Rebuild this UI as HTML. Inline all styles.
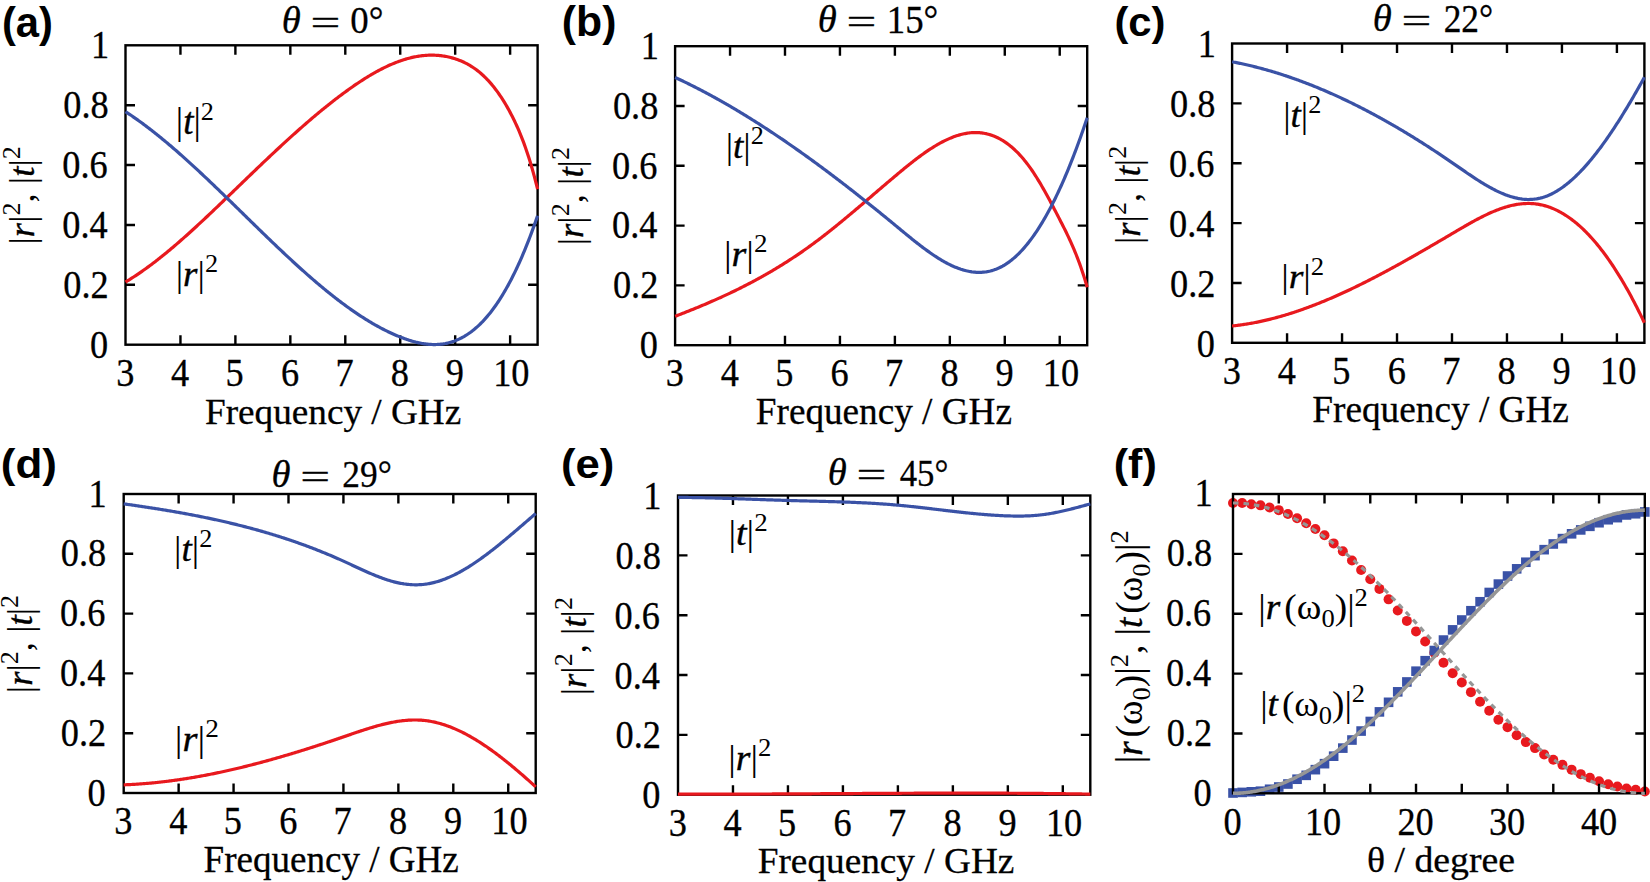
<!DOCTYPE html>
<html><head><meta charset="utf-8"><title>Figure</title><style>html,body{margin:0;padding:0;background:#fff;width:1650px;height:882px;overflow:hidden}svg{display:block}</style></head><body>
<svg width="1650" height="882" viewBox="0 0 1650 882">
<rect width="1650" height="882" fill="#fff"/>
<path d="M180.45,344.70V335.20M180.45,45.30V54.80M235.39,344.70V335.20M235.39,45.30V54.80M290.34,344.70V335.20M290.34,45.30V54.80M345.29,344.70V335.20M345.29,45.30V54.80M400.23,344.70V335.20M400.23,45.30V54.80M455.18,344.70V335.20M455.18,45.30V54.80M510.13,344.70V335.20M510.13,45.30V54.80M125.50,284.82H135.00M537.60,284.82H528.10M125.50,224.94H135.00M537.60,224.94H528.10M125.50,165.06H135.00M537.60,165.06H528.10M125.50,105.18H135.00M537.60,105.18H528.10" stroke="#000" stroke-width="2.4" fill="none"/><rect x="125.5" y="45.3" width="412.10" height="299.40" stroke="#000" stroke-width="2.4" fill="none"/>
<path d="M125.50,282.00 L126.60,281.35 L127.70,280.68 L128.80,280.01 L129.90,279.33 L130.99,278.64 L132.09,277.94 L133.19,277.24 L134.29,276.52 L135.39,275.80 L136.49,275.08 L137.59,274.34 L138.69,273.60 L139.79,272.85 L140.89,272.10 L141.98,271.33 L143.08,270.56 L144.18,269.78 L145.28,269.00 L146.38,268.21 L147.48,267.41 L148.58,266.61 L149.68,265.80 L150.78,264.98 L151.87,264.16 L152.97,263.33 L154.07,262.49 L155.17,261.65 L156.27,260.80 L157.37,259.95 L158.47,259.09 L159.57,258.22 L160.67,257.35 L161.76,256.47 L162.86,255.59 L163.96,254.70 L165.06,253.81 L166.16,252.91 L167.26,252.01 L168.36,251.10 L169.46,250.19 L170.56,249.27 L171.66,248.35 L172.75,247.42 L173.85,246.48 L174.95,245.55 L176.05,244.61 L177.15,243.66 L178.25,242.71 L179.35,241.75 L180.45,240.79 L181.55,239.83 L182.64,238.86 L183.74,237.89 L184.84,236.92 L185.94,235.94 L187.04,234.96 L188.14,233.97 L189.24,232.98 L190.34,231.99 L191.44,230.99 L192.53,229.99 L193.63,228.99 L194.73,227.99 L195.83,226.98 L196.93,225.97 L198.03,224.95 L199.13,223.93 L200.23,222.91 L201.33,221.89 L202.43,220.87 L203.52,219.84 L204.62,218.81 L205.72,217.78 L206.82,216.74 L207.92,215.71 L209.02,214.67 L210.12,213.63 L211.22,212.59 L212.32,211.54 L213.41,210.50 L214.51,209.45 L215.61,208.40 L216.71,207.35 L217.81,206.30 L218.91,205.25 L220.01,204.19 L221.11,203.14 L222.21,202.08 L223.31,201.02 L224.40,199.97 L225.50,198.91 L226.60,197.85 L227.70,196.79 L228.80,195.73 L229.90,194.67 L231.00,193.61 L232.10,192.54 L233.20,191.48 L234.29,190.42 L235.39,189.36 L236.49,188.30 L237.59,187.24 L238.69,186.17 L239.79,185.11 L240.89,184.05 L241.99,182.99 L243.09,181.93 L244.18,180.87 L245.28,179.81 L246.38,178.75 L247.48,177.69 L248.58,176.64 L249.68,175.58 L250.78,174.52 L251.88,173.47 L252.98,172.41 L254.08,171.36 L255.17,170.31 L256.27,169.25 L257.37,168.20 L258.47,167.15 L259.57,166.10 L260.67,165.06 L261.77,164.01 L262.87,162.96 L263.97,161.92 L265.06,160.88 L266.16,159.84 L267.26,158.80 L268.36,157.76 L269.46,156.72 L270.56,155.69 L271.66,154.66 L272.76,153.62 L273.86,152.59 L274.95,151.57 L276.05,150.54 L277.15,149.52 L278.25,148.50 L279.35,147.48 L280.45,146.46 L281.55,145.44 L282.65,144.43 L283.75,143.42 L284.85,142.41 L285.94,141.40 L287.04,140.40 L288.14,139.40 L289.24,138.40 L290.34,137.40 L291.44,136.41 L292.54,135.41 L293.64,134.43 L294.74,133.44 L295.83,132.46 L296.93,131.48 L298.03,130.50 L299.13,129.52 L300.23,128.55 L301.33,127.58 L302.43,126.62 L303.53,125.66 L304.63,124.70 L305.73,123.74 L306.82,122.79 L307.92,121.84 L309.02,120.89 L310.12,119.95 L311.22,119.01 L312.32,118.08 L313.42,117.15 L314.52,116.22 L315.62,115.30 L316.71,114.37 L317.81,113.46 L318.91,112.55 L320.01,111.64 L321.11,110.73 L322.21,109.83 L323.31,108.93 L324.41,108.04 L325.51,107.15 L326.60,106.27 L327.70,105.39 L328.80,104.51 L329.90,103.64 L331.00,102.77 L332.10,101.91 L333.20,101.05 L334.30,100.20 L335.40,99.35 L336.50,98.51 L337.59,97.67 L338.69,96.83 L339.79,96.01 L340.89,95.18 L341.99,94.36 L343.09,93.55 L344.19,92.74 L345.29,91.93 L346.39,91.13 L347.48,90.34 L348.58,89.55 L349.68,88.76 L350.78,87.99 L351.88,87.21 L352.98,86.45 L354.08,85.69 L355.18,84.93 L356.28,84.19 L357.37,83.45 L358.47,82.71 L359.57,81.98 L360.67,81.26 L361.77,80.55 L362.87,79.84 L363.97,79.14 L365.07,78.45 L366.17,77.76 L367.27,77.08 L368.36,76.41 L369.46,75.75 L370.56,75.10 L371.66,74.45 L372.76,73.81 L373.86,73.18 L374.96,72.56 L376.06,71.95 L377.16,71.35 L378.25,70.75 L379.35,70.17 L380.45,69.59 L381.55,69.02 L382.65,68.46 L383.75,67.92 L384.85,67.38 L385.95,66.85 L387.05,66.33 L388.15,65.82 L389.24,65.32 L390.34,64.83 L391.44,64.35 L392.54,63.88 L393.64,63.43 L394.74,62.98 L395.84,62.55 L396.94,62.12 L398.04,61.71 L399.13,61.31 L400.23,60.92 L401.33,60.54 L402.43,60.17 L403.53,59.81 L404.63,59.47 L405.73,59.14 L406.83,58.82 L407.93,58.51 L409.02,58.22 L410.12,57.94 L411.22,57.67 L412.32,57.41 L413.42,57.17 L414.52,56.94 L415.62,56.72 L416.72,56.52 L417.82,56.33 L418.92,56.15 L420.01,55.99 L421.11,55.84 L422.21,55.71 L423.31,55.59 L424.41,55.48 L425.51,55.39 L426.61,55.31 L427.71,55.25 L428.81,55.20 L429.90,55.17 L431.00,55.15 L432.10,55.15 L433.20,55.16 L434.30,55.19 L435.40,55.23 L436.50,55.29 L437.60,55.36 L438.70,55.46 L439.79,55.56 L440.89,55.69 L441.99,55.83 L443.09,55.98 L444.19,56.15 L445.29,56.34 L446.39,56.55 L447.49,56.77 L448.59,57.01 L449.69,57.27 L450.78,57.55 L451.88,57.84 L452.98,58.15 L454.08,58.48 L455.18,58.82 L456.28,59.19 L457.38,59.57 L458.48,59.97 L459.58,60.39 L460.67,60.83 L461.77,61.30 L462.87,61.78 L463.97,62.29 L465.07,62.82 L466.17,63.37 L467.27,63.95 L468.37,64.56 L469.47,65.19 L470.57,65.84 L471.66,66.53 L472.76,67.24 L473.86,67.98 L474.96,68.74 L476.06,69.54 L477.16,70.37 L478.26,71.23 L479.36,72.11 L480.46,73.04 L481.55,73.99 L482.65,74.98 L483.75,76.00 L484.85,77.06 L485.95,78.15 L487.05,79.27 L488.15,80.44 L489.25,81.64 L490.35,82.88 L491.44,84.15 L492.54,85.47 L493.64,86.83 L494.74,88.22 L495.84,89.66 L496.94,91.14 L498.04,92.66 L499.14,94.23 L500.24,95.83 L501.34,97.49 L502.43,99.18 L503.53,100.92 L504.63,102.71 L505.73,104.55 L506.83,106.43 L507.93,108.36 L509.03,110.34 L510.13,112.37 L511.23,114.45 L512.32,116.58 L513.42,118.77 L514.52,121.02 L515.62,123.34 L516.72,125.72 L517.82,128.18 L518.92,130.72 L520.02,133.33 L521.12,136.03 L522.21,138.82 L523.31,141.69 L524.41,144.67 L525.51,147.74 L526.61,150.91 L527.71,154.19 L528.81,157.59 L529.91,161.09 L531.01,164.72 L532.11,168.46 L533.20,172.33 L534.30,176.33 L535.40,180.47 L536.50,184.74 L537.60,189.15" stroke="#e8191e" stroke-width="3.2" fill="none" stroke-linejoin="round"/>
<path d="M125.50,111.65 L126.60,112.37 L127.70,113.09 L128.80,113.82 L129.90,114.56 L130.99,115.30 L132.09,116.05 L133.19,116.81 L134.29,117.57 L135.39,118.34 L136.49,119.11 L137.59,119.89 L138.69,120.68 L139.79,121.47 L140.89,122.27 L141.98,123.07 L143.08,123.88 L144.18,124.70 L145.28,125.52 L146.38,126.35 L147.48,127.18 L148.58,128.02 L149.68,128.86 L150.78,129.71 L151.87,130.57 L152.97,131.43 L154.07,132.29 L155.17,133.16 L156.27,134.04 L157.37,134.92 L158.47,135.80 L159.57,136.69 L160.67,137.59 L161.76,138.49 L162.86,139.39 L163.96,140.30 L165.06,141.21 L166.16,142.13 L167.26,143.05 L168.36,143.98 L169.46,144.91 L170.56,145.84 L171.66,146.78 L172.75,147.73 L173.85,148.67 L174.95,149.63 L176.05,150.58 L177.15,151.54 L178.25,152.50 L179.35,153.47 L180.45,154.44 L181.55,155.41 L182.64,156.39 L183.74,157.37 L184.84,158.36 L185.94,159.34 L187.04,160.34 L188.14,161.33 L189.24,162.33 L190.34,163.33 L191.44,164.33 L192.53,165.34 L193.63,166.35 L194.73,167.36 L195.83,168.37 L196.93,169.39 L198.03,170.41 L199.13,171.44 L200.23,172.46 L201.33,173.49 L202.43,174.52 L203.52,175.55 L204.62,176.59 L205.72,177.62 L206.82,178.66 L207.92,179.71 L209.02,180.75 L210.12,181.79 L211.22,182.84 L212.32,183.89 L213.41,184.94 L214.51,185.99 L215.61,187.05 L216.71,188.10 L217.81,189.16 L218.91,190.22 L220.01,191.28 L221.11,192.34 L222.21,193.41 L223.31,194.47 L224.40,195.54 L225.50,196.60 L226.60,197.67 L227.70,198.74 L228.80,199.81 L229.90,200.88 L231.00,201.95 L232.10,203.02 L233.20,204.09 L234.29,205.17 L235.39,206.24 L236.49,207.31 L237.59,208.39 L238.69,209.46 L239.79,210.54 L240.89,211.61 L241.99,212.69 L243.09,213.76 L244.18,214.84 L245.28,215.91 L246.38,216.99 L247.48,218.06 L248.58,219.14 L249.68,220.21 L250.78,221.29 L251.88,222.36 L252.98,223.43 L254.08,224.50 L255.17,225.58 L256.27,226.65 L257.37,227.72 L258.47,228.79 L259.57,229.86 L260.67,230.93 L261.77,231.99 L262.87,233.06 L263.97,234.12 L265.06,235.19 L266.16,236.25 L267.26,237.31 L268.36,238.37 L269.46,239.43 L270.56,240.48 L271.66,241.54 L272.76,242.59 L273.86,243.65 L274.95,244.70 L276.05,245.74 L277.15,246.79 L278.25,247.83 L279.35,248.88 L280.45,249.92 L281.55,250.96 L282.65,251.99 L283.75,253.03 L284.85,254.06 L285.94,255.09 L287.04,256.11 L288.14,257.14 L289.24,258.16 L290.34,259.18 L291.44,260.20 L292.54,261.21 L293.64,262.22 L294.74,263.23 L295.83,264.23 L296.93,265.23 L298.03,266.23 L299.13,267.23 L300.23,268.22 L301.33,269.21 L302.43,270.20 L303.53,271.18 L304.63,272.16 L305.73,273.14 L306.82,274.11 L307.92,275.08 L309.02,276.04 L310.12,277.00 L311.22,277.96 L312.32,278.91 L313.42,279.86 L314.52,280.81 L315.62,281.75 L316.71,282.69 L317.81,283.62 L318.91,284.55 L320.01,285.47 L321.11,286.39 L322.21,287.31 L323.31,288.22 L324.41,289.12 L325.51,290.03 L326.60,290.92 L327.70,291.82 L328.80,292.70 L329.90,293.59 L331.00,294.46 L332.10,295.34 L333.20,296.20 L334.30,297.07 L335.40,297.92 L336.50,298.77 L337.59,299.62 L338.69,300.46 L339.79,301.30 L340.89,302.13 L341.99,302.95 L343.09,303.77 L344.19,304.58 L345.29,305.39 L346.39,306.19 L347.48,306.99 L348.58,307.78 L349.68,308.56 L350.78,309.34 L351.88,310.11 L352.98,310.88 L354.08,311.64 L355.18,312.39 L356.28,313.13 L357.37,313.87 L358.47,314.61 L359.57,315.33 L360.67,316.05 L361.77,316.77 L362.87,317.47 L363.97,318.17 L365.07,318.87 L366.17,319.55 L367.27,320.23 L368.36,320.90 L369.46,321.57 L370.56,322.22 L371.66,322.87 L372.76,323.52 L373.86,324.15 L374.96,324.78 L376.06,325.40 L377.16,326.01 L378.25,326.62 L379.35,327.21 L380.45,327.80 L381.55,328.39 L382.65,328.96 L383.75,329.52 L384.85,330.08 L385.95,330.63 L387.05,331.17 L388.15,331.71 L389.24,332.23 L390.34,332.75 L391.44,333.26 L392.54,333.76 L393.64,334.25 L394.74,334.73 L395.84,335.20 L396.94,335.67 L398.04,336.12 L399.13,336.57 L400.23,337.01 L401.33,337.44 L402.43,337.86 L403.53,338.27 L404.63,338.67 L405.73,339.06 L406.83,339.44 L407.93,339.81 L409.02,340.17 L410.12,340.51 L411.22,340.85 L412.32,341.17 L413.42,341.48 L414.52,341.77 L415.62,342.06 L416.72,342.32 L417.82,342.58 L418.92,342.82 L420.01,343.05 L421.11,343.26 L422.21,343.46 L423.31,343.64 L424.41,343.81 L425.51,343.96 L426.61,344.09 L427.71,344.21 L428.81,344.31 L429.90,344.39 L431.00,344.45 L432.10,344.50 L433.20,344.53 L434.30,344.54 L435.40,344.53 L436.50,344.50 L437.60,344.45 L438.70,344.38 L439.79,344.29 L440.89,344.18 L441.99,344.05 L443.09,343.90 L444.19,343.72 L445.29,343.53 L446.39,343.31 L447.49,343.07 L448.59,342.81 L449.69,342.52 L450.78,342.21 L451.88,341.88 L452.98,341.52 L454.08,341.14 L455.18,340.73 L456.28,340.30 L457.38,339.84 L458.48,339.35 L459.58,338.84 L460.67,338.31 L461.77,337.74 L462.87,337.15 L463.97,336.54 L465.07,335.89 L466.17,335.22 L467.27,334.51 L468.37,333.78 L469.47,333.02 L470.57,332.23 L471.66,331.41 L472.76,330.57 L473.86,329.69 L474.96,328.78 L476.06,327.83 L477.16,326.86 L478.26,325.86 L479.36,324.82 L480.46,323.75 L481.55,322.65 L482.65,321.52 L483.75,320.35 L484.85,319.15 L485.95,317.92 L487.05,316.65 L488.15,315.34 L489.25,314.01 L490.35,312.63 L491.44,311.22 L492.54,309.78 L493.64,308.30 L494.74,306.78 L495.84,305.22 L496.94,303.63 L498.04,302.00 L499.14,300.34 L500.24,298.63 L501.34,296.89 L502.43,295.11 L503.53,293.28 L504.63,291.42 L505.73,289.52 L506.83,287.58 L507.93,285.60 L509.03,283.58 L510.13,281.52 L511.23,279.41 L512.32,277.27 L513.42,275.08 L514.52,272.85 L515.62,270.58 L516.72,268.26 L517.82,265.90 L518.92,263.50 L520.02,261.05 L521.12,258.56 L522.21,256.03 L523.31,253.45 L524.41,250.82 L525.51,248.15 L526.61,245.43 L527.71,242.67 L528.81,239.86 L529.91,237.00 L531.01,234.10 L532.11,231.15 L533.20,228.15 L534.30,225.10 L535.40,222.01 L536.50,218.86 L537.60,215.67" stroke="#3a52a6" stroke-width="3.2" fill="none" stroke-linejoin="round"/>
<path d="M730.05,345.20V335.70M730.05,46.20V55.70M784.99,345.20V335.70M784.99,46.20V55.70M839.94,345.20V335.70M839.94,46.20V55.70M894.89,345.20V335.70M894.89,46.20V55.70M949.83,345.20V335.70M949.83,46.20V55.70M1004.78,345.20V335.70M1004.78,46.20V55.70M1059.73,345.20V335.70M1059.73,46.20V55.70M675.10,285.40H684.60M1087.20,285.40H1077.70M675.10,225.60H684.60M1087.20,225.60H1077.70M675.10,165.80H684.60M1087.20,165.80H1077.70M675.10,106.00H684.60M1087.20,106.00H1077.70" stroke="#000" stroke-width="2.4" fill="none"/><rect x="675.1" y="46.2" width="412.10" height="299.00" stroke="#000" stroke-width="2.4" fill="none"/>
<path d="M675.10,316.31 L676.20,315.89 L677.30,315.47 L678.40,315.04 L679.50,314.62 L680.59,314.19 L681.69,313.77 L682.79,313.34 L683.89,312.91 L684.99,312.48 L686.09,312.04 L687.19,311.61 L688.29,311.17 L689.39,310.74 L690.49,310.30 L691.58,309.85 L692.68,309.41 L693.78,308.97 L694.88,308.52 L695.98,308.07 L697.08,307.62 L698.18,307.17 L699.28,306.71 L700.38,306.25 L701.47,305.80 L702.57,305.34 L703.67,304.87 L704.77,304.41 L705.87,303.94 L706.97,303.47 L708.07,303.00 L709.17,302.53 L710.27,302.05 L711.36,301.57 L712.46,301.09 L713.56,300.61 L714.66,300.13 L715.76,299.64 L716.86,299.15 L717.96,298.66 L719.06,298.16 L720.16,297.67 L721.26,297.17 L722.35,296.67 L723.45,296.16 L724.55,295.65 L725.65,295.14 L726.75,294.63 L727.85,294.12 L728.95,293.60 L730.05,293.08 L731.15,292.56 L732.24,292.03 L733.34,291.50 L734.44,290.97 L735.54,290.44 L736.64,289.90 L737.74,289.36 L738.84,288.82 L739.94,288.27 L741.04,287.72 L742.13,287.17 L743.23,286.61 L744.33,286.05 L745.43,285.49 L746.53,284.93 L747.63,284.36 L748.73,283.79 L749.83,283.22 L750.93,282.64 L752.03,282.06 L753.12,281.47 L754.22,280.89 L755.32,280.30 L756.42,279.70 L757.52,279.10 L758.62,278.50 L759.72,277.90 L760.82,277.29 L761.92,276.68 L763.01,276.07 L764.11,275.45 L765.21,274.82 L766.31,274.20 L767.41,273.57 L768.51,272.94 L769.61,272.30 L770.71,271.66 L771.81,271.01 L772.91,270.37 L774.00,269.71 L775.10,269.06 L776.20,268.40 L777.30,267.74 L778.40,267.07 L779.50,266.40 L780.60,265.72 L781.70,265.04 L782.80,264.36 L783.89,263.67 L784.99,262.98 L786.09,262.28 L787.19,261.58 L788.29,260.88 L789.39,260.17 L790.49,259.46 L791.59,258.74 L792.69,258.02 L793.78,257.29 L794.88,256.56 L795.98,255.83 L797.08,255.09 L798.18,254.35 L799.28,253.60 L800.38,252.85 L801.48,252.09 L802.58,251.33 L803.68,250.56 L804.77,249.79 L805.87,249.02 L806.97,248.24 L808.07,247.45 L809.17,246.66 L810.27,245.87 L811.37,245.07 L812.47,244.27 L813.57,243.46 L814.66,242.64 L815.76,241.83 L816.86,241.00 L817.96,240.18 L819.06,239.35 L820.16,238.51 L821.26,237.67 L822.36,236.83 L823.46,235.98 L824.55,235.13 L825.65,234.27 L826.75,233.41 L827.85,232.55 L828.95,231.68 L830.05,230.81 L831.15,229.94 L832.25,229.06 L833.35,228.18 L834.45,227.30 L835.54,226.41 L836.64,225.52 L837.74,224.63 L838.84,223.73 L839.94,222.83 L841.04,221.93 L842.14,221.03 L843.24,220.12 L844.34,219.22 L845.43,218.30 L846.53,217.39 L847.63,216.48 L848.73,215.56 L849.83,214.64 L850.93,213.72 L852.03,212.80 L853.13,211.87 L854.23,210.95 L855.33,210.02 L856.42,209.09 L857.52,208.16 L858.62,207.23 L859.72,206.29 L860.82,205.36 L861.92,204.42 L863.02,203.49 L864.12,202.55 L865.22,201.61 L866.31,200.67 L867.41,199.74 L868.51,198.80 L869.61,197.86 L870.71,196.92 L871.81,195.98 L872.91,195.03 L874.01,194.09 L875.11,193.15 L876.20,192.21 L877.30,191.27 L878.40,190.33 L879.50,189.39 L880.60,188.45 L881.70,187.51 L882.80,186.58 L883.90,185.64 L885.00,184.70 L886.10,183.77 L887.19,182.83 L888.29,181.90 L889.39,180.96 L890.49,180.03 L891.59,179.10 L892.69,178.17 L893.79,177.25 L894.89,176.32 L895.99,175.40 L897.08,174.47 L898.18,173.55 L899.28,172.64 L900.38,171.72 L901.48,170.81 L902.58,169.90 L903.68,169.00 L904.78,168.10 L905.88,167.20 L906.97,166.31 L908.07,165.43 L909.17,164.55 L910.27,163.67 L911.37,162.80 L912.47,161.94 L913.57,161.08 L914.67,160.23 L915.77,159.39 L916.87,158.55 L917.96,157.72 L919.06,156.90 L920.16,156.09 L921.26,155.29 L922.36,154.49 L923.46,153.71 L924.56,152.93 L925.66,152.16 L926.76,151.41 L927.85,150.66 L928.95,149.93 L930.05,149.20 L931.15,148.49 L932.25,147.79 L933.35,147.09 L934.45,146.42 L935.55,145.75 L936.65,145.10 L937.75,144.46 L938.84,143.83 L939.94,143.22 L941.04,142.62 L942.14,142.03 L943.24,141.46 L944.34,140.91 L945.44,140.37 L946.54,139.84 L947.64,139.33 L948.73,138.84 L949.83,138.36 L950.93,137.90 L952.03,137.46 L953.13,137.03 L954.23,136.62 L955.33,136.23 L956.43,135.85 L957.53,135.50 L958.62,135.16 L959.72,134.85 L960.82,134.55 L961.92,134.27 L963.02,134.01 L964.12,133.77 L965.22,133.55 L966.32,133.36 L967.42,133.18 L968.52,133.02 L969.61,132.89 L970.71,132.78 L971.81,132.69 L972.91,132.62 L974.01,132.58 L975.11,132.56 L976.21,132.56 L977.31,132.59 L978.41,132.64 L979.50,132.71 L980.60,132.81 L981.70,132.94 L982.80,133.09 L983.90,133.26 L985.00,133.46 L986.10,133.69 L987.20,133.94 L988.30,134.22 L989.39,134.53 L990.49,134.87 L991.59,135.23 L992.69,135.62 L993.79,136.04 L994.89,136.48 L995.99,136.96 L997.09,137.46 L998.19,138.00 L999.29,138.56 L1000.38,139.15 L1001.48,139.78 L1002.58,140.43 L1003.68,141.12 L1004.78,141.84 L1005.88,142.58 L1006.98,143.36 L1008.08,144.18 L1009.18,145.02 L1010.27,145.90 L1011.37,146.81 L1012.47,147.75 L1013.57,148.73 L1014.67,149.74 L1015.77,150.79 L1016.87,151.87 L1017.97,152.98 L1019.07,154.13 L1020.17,155.31 L1021.26,156.53 L1022.36,157.79 L1023.46,159.08 L1024.56,160.41 L1025.66,161.78 L1026.76,163.18 L1027.86,164.62 L1028.96,166.10 L1030.06,167.62 L1031.15,169.17 L1032.25,170.77 L1033.35,172.40 L1034.45,174.07 L1035.55,175.78 L1036.65,177.52 L1037.75,179.29 L1038.85,181.10 L1039.95,182.93 L1041.04,184.80 L1042.14,186.69 L1043.24,188.61 L1044.34,190.55 L1045.44,192.51 L1046.54,194.50 L1047.64,196.51 L1048.74,198.54 L1049.84,200.58 L1050.94,202.64 L1052.03,204.71 L1053.13,206.80 L1054.23,208.90 L1055.33,211.01 L1056.43,213.12 L1057.53,215.25 L1058.63,217.38 L1059.73,219.51 L1060.83,221.65 L1061.92,223.80 L1063.02,225.96 L1064.12,228.14 L1065.22,230.34 L1066.32,232.57 L1067.42,234.83 L1068.52,237.14 L1069.62,239.48 L1070.72,241.88 L1071.81,244.33 L1072.91,246.84 L1074.01,249.41 L1075.11,252.06 L1076.21,254.77 L1077.31,257.57 L1078.41,260.46 L1079.51,263.43 L1080.61,266.50 L1081.71,269.67 L1082.80,272.94 L1083.90,276.32 L1085.00,279.82 L1086.10,283.45 L1087.20,287.19" stroke="#e8191e" stroke-width="3.2" fill="none" stroke-linejoin="round"/>
<path d="M675.10,77.42 L676.20,77.92 L677.30,78.44 L678.40,78.95 L679.50,79.47 L680.59,79.99 L681.69,80.51 L682.79,81.04 L683.89,81.57 L684.99,82.10 L686.09,82.64 L687.19,83.18 L688.29,83.72 L689.39,84.26 L690.49,84.81 L691.58,85.36 L692.68,85.91 L693.78,86.46 L694.88,87.02 L695.98,87.58 L697.08,88.14 L698.18,88.71 L699.28,89.27 L700.38,89.85 L701.47,90.42 L702.57,91.00 L703.67,91.57 L704.77,92.16 L705.87,92.74 L706.97,93.33 L708.07,93.92 L709.17,94.51 L710.27,95.10 L711.36,95.70 L712.46,96.30 L713.56,96.90 L714.66,97.51 L715.76,98.12 L716.86,98.73 L717.96,99.34 L719.06,99.95 L720.16,100.57 L721.26,101.19 L722.35,101.81 L723.45,102.44 L724.55,103.07 L725.65,103.70 L726.75,104.33 L727.85,104.97 L728.95,105.60 L730.05,106.24 L731.15,106.89 L732.24,107.53 L733.34,108.18 L734.44,108.83 L735.54,109.48 L736.64,110.14 L737.74,110.79 L738.84,111.45 L739.94,112.12 L741.04,112.78 L742.13,113.45 L743.23,114.12 L744.33,114.79 L745.43,115.46 L746.53,116.14 L747.63,116.82 L748.73,117.50 L749.83,118.18 L750.93,118.86 L752.03,119.55 L753.12,120.24 L754.22,120.93 L755.32,121.63 L756.42,122.32 L757.52,123.02 L758.62,123.72 L759.72,124.43 L760.82,125.13 L761.92,125.84 L763.01,126.55 L764.11,127.26 L765.21,127.98 L766.31,128.69 L767.41,129.41 L768.51,130.13 L769.61,130.85 L770.71,131.58 L771.81,132.31 L772.91,133.03 L774.00,133.77 L775.10,134.50 L776.20,135.23 L777.30,135.97 L778.40,136.71 L779.50,137.45 L780.60,138.20 L781.70,138.94 L782.80,139.69 L783.89,140.44 L784.99,141.19 L786.09,141.94 L787.19,142.70 L788.29,143.46 L789.39,144.22 L790.49,144.98 L791.59,145.74 L792.69,146.51 L793.78,147.27 L794.88,148.04 L795.98,148.82 L797.08,149.59 L798.18,150.36 L799.28,151.14 L800.38,151.92 L801.48,152.70 L802.58,153.48 L803.68,154.27 L804.77,155.05 L805.87,155.84 L806.97,156.63 L808.07,157.42 L809.17,158.22 L810.27,159.01 L811.37,159.81 L812.47,160.61 L813.57,161.41 L814.66,162.21 L815.76,163.01 L816.86,163.82 L817.96,164.63 L819.06,165.44 L820.16,166.25 L821.26,167.06 L822.36,167.88 L823.46,168.69 L824.55,169.51 L825.65,170.33 L826.75,171.15 L827.85,171.97 L828.95,172.80 L830.05,173.62 L831.15,174.45 L832.25,175.28 L833.35,176.11 L834.45,176.95 L835.54,177.78 L836.64,178.62 L837.74,179.45 L838.84,180.29 L839.94,181.13 L841.04,181.98 L842.14,182.82 L843.24,183.66 L844.34,184.51 L845.43,185.36 L846.53,186.21 L847.63,187.06 L848.73,187.91 L849.83,188.77 L850.93,189.62 L852.03,190.48 L853.13,191.34 L854.23,192.20 L855.33,193.06 L856.42,193.92 L857.52,194.79 L858.62,195.65 L859.72,196.52 L860.82,197.39 L861.92,198.26 L863.02,199.13 L864.12,200.00 L865.22,200.88 L866.31,201.75 L867.41,202.63 L868.51,203.50 L869.61,204.38 L870.71,205.26 L871.81,206.15 L872.91,207.03 L874.01,207.91 L875.11,208.80 L876.20,209.69 L877.30,210.57 L878.40,211.46 L879.50,212.35 L880.60,213.25 L881.70,214.14 L882.80,215.03 L883.90,215.93 L885.00,216.83 L886.10,217.72 L887.19,218.62 L888.29,219.52 L889.39,220.43 L890.49,221.33 L891.59,222.23 L892.69,223.14 L893.79,224.04 L894.89,224.95 L895.99,225.86 L897.08,226.77 L898.18,227.68 L899.28,228.58 L900.38,229.49 L901.48,230.40 L902.58,231.31 L903.68,232.22 L904.78,233.12 L905.88,234.02 L906.97,234.92 L908.07,235.82 L909.17,236.72 L910.27,237.61 L911.37,238.50 L912.47,239.38 L913.57,240.26 L914.67,241.14 L915.77,242.01 L916.87,242.87 L917.96,243.73 L919.06,244.58 L920.16,245.43 L921.26,246.27 L922.36,247.10 L923.46,247.93 L924.56,248.75 L925.66,249.56 L926.76,250.36 L927.85,251.15 L928.95,251.93 L930.05,252.71 L931.15,253.47 L932.25,254.23 L933.35,254.97 L934.45,255.71 L935.55,256.43 L936.65,257.14 L937.75,257.84 L938.84,258.53 L939.94,259.20 L941.04,259.86 L942.14,260.51 L943.24,261.15 L944.34,261.77 L945.44,262.38 L946.54,262.97 L947.64,263.55 L948.73,264.11 L949.83,264.66 L950.93,265.19 L952.03,265.71 L953.13,266.20 L954.23,266.69 L955.33,267.15 L956.43,267.60 L957.53,268.03 L958.62,268.44 L959.72,268.83 L960.82,269.21 L961.92,269.56 L963.02,269.90 L964.12,270.21 L965.22,270.51 L966.32,270.79 L967.42,271.04 L968.52,271.27 L969.61,271.48 L970.71,271.67 L971.81,271.84 L972.91,271.98 L974.01,272.11 L975.11,272.20 L976.21,272.28 L977.31,272.33 L978.41,272.36 L979.50,272.36 L980.60,272.34 L981.70,272.29 L982.80,272.21 L983.90,272.11 L985.00,271.99 L986.10,271.84 L987.20,271.66 L988.30,271.45 L989.39,271.21 L990.49,270.95 L991.59,270.66 L992.69,270.34 L993.79,269.99 L994.89,269.61 L995.99,269.21 L997.09,268.77 L998.19,268.30 L999.29,267.80 L1000.38,267.27 L1001.48,266.71 L1002.58,266.12 L1003.68,265.49 L1004.78,264.84 L1005.88,264.15 L1006.98,263.42 L1008.08,262.67 L1009.18,261.88 L1010.27,261.06 L1011.37,260.20 L1012.47,259.31 L1013.57,258.39 L1014.67,257.44 L1015.77,256.45 L1016.87,255.43 L1017.97,254.38 L1019.07,253.29 L1020.17,252.17 L1021.26,251.01 L1022.36,249.82 L1023.46,248.60 L1024.56,247.35 L1025.66,246.06 L1026.76,244.73 L1027.86,243.37 L1028.96,241.98 L1030.06,240.56 L1031.15,239.09 L1032.25,237.60 L1033.35,236.07 L1034.45,234.51 L1035.55,232.91 L1036.65,231.28 L1037.75,229.61 L1038.85,227.91 L1039.95,226.17 L1041.04,224.40 L1042.14,222.59 L1043.24,220.75 L1044.34,218.88 L1045.44,216.97 L1046.54,215.02 L1047.64,213.04 L1048.74,211.02 L1049.84,208.97 L1050.94,206.88 L1052.03,204.76 L1053.13,202.60 L1054.23,200.41 L1055.33,198.18 L1056.43,195.92 L1057.53,193.62 L1058.63,191.28 L1059.73,188.91 L1060.83,186.50 L1061.92,184.05 L1063.02,181.57 L1064.12,179.06 L1065.22,176.50 L1066.32,173.92 L1067.42,171.29 L1068.52,168.63 L1069.62,165.93 L1070.72,163.20 L1071.81,160.43 L1072.91,157.62 L1074.01,154.77 L1075.11,151.89 L1076.21,148.97 L1077.31,146.02 L1078.41,143.03 L1079.51,140.00 L1080.61,136.93 L1081.71,133.83 L1082.80,130.69 L1083.90,127.51 L1085.00,124.29 L1086.10,121.04 L1087.20,117.75" stroke="#3a52a6" stroke-width="3.2" fill="none" stroke-linejoin="round"/>
<path d="M1287.07,342.80V333.30M1287.07,43.50V53.00M1342.05,342.80V333.30M1342.05,43.50V53.00M1397.02,342.80V333.30M1397.02,43.50V53.00M1451.99,342.80V333.30M1451.99,43.50V53.00M1506.97,342.80V333.30M1506.97,43.50V53.00M1561.94,342.80V333.30M1561.94,43.50V53.00M1616.91,342.80V333.30M1616.91,43.50V53.00M1232.10,282.94H1241.60M1644.40,282.94H1634.90M1232.10,223.08H1241.60M1644.40,223.08H1634.90M1232.10,163.22H1241.60M1644.40,163.22H1634.90M1232.10,103.36H1241.60M1644.40,103.36H1634.90" stroke="#000" stroke-width="2.4" fill="none"/><rect x="1232.1" y="43.5" width="412.30" height="299.30" stroke="#000" stroke-width="2.4" fill="none"/>
<path d="M1232.10,325.97 L1233.20,325.86 L1234.30,325.74 L1235.40,325.61 L1236.50,325.48 L1237.60,325.35 L1238.70,325.21 L1239.80,325.06 L1240.90,324.91 L1242.00,324.76 L1243.09,324.60 L1244.19,324.44 L1245.29,324.27 L1246.39,324.09 L1247.49,323.92 L1248.59,323.73 L1249.69,323.54 L1250.79,323.35 L1251.89,323.15 L1252.99,322.95 L1254.09,322.74 L1255.19,322.53 L1256.29,322.32 L1257.39,322.10 L1258.49,321.87 L1259.59,321.64 L1260.69,321.41 L1261.79,321.17 L1262.89,320.92 L1263.98,320.68 L1265.08,320.42 L1266.18,320.17 L1267.28,319.91 L1268.38,319.64 L1269.48,319.37 L1270.58,319.10 L1271.68,318.82 L1272.78,318.54 L1273.88,318.25 L1274.98,317.96 L1276.08,317.67 L1277.18,317.37 L1278.28,317.07 L1279.38,316.76 L1280.48,316.45 L1281.58,316.13 L1282.68,315.81 L1283.77,315.49 L1284.87,315.16 L1285.97,314.83 L1287.07,314.50 L1288.17,314.16 L1289.27,313.82 L1290.37,313.47 L1291.47,313.12 L1292.57,312.76 L1293.67,312.41 L1294.77,312.04 L1295.87,311.68 L1296.97,311.31 L1298.07,310.94 L1299.17,310.56 L1300.27,310.18 L1301.37,309.80 L1302.47,309.41 L1303.57,309.02 L1304.66,308.62 L1305.76,308.23 L1306.86,307.82 L1307.96,307.42 L1309.06,307.01 L1310.16,306.60 L1311.26,306.18 L1312.36,305.77 L1313.46,305.34 L1314.56,304.92 L1315.66,304.49 L1316.76,304.06 L1317.86,303.62 L1318.96,303.19 L1320.06,302.74 L1321.16,302.30 L1322.26,301.85 L1323.36,301.40 L1324.46,300.95 L1325.55,300.49 L1326.65,300.03 L1327.75,299.57 L1328.85,299.10 L1329.95,298.63 L1331.05,298.16 L1332.15,297.68 L1333.25,297.21 L1334.35,296.73 L1335.45,296.24 L1336.55,295.76 L1337.65,295.27 L1338.75,294.78 L1339.85,294.28 L1340.95,293.78 L1342.05,293.28 L1343.15,292.78 L1344.25,292.27 L1345.35,291.77 L1346.44,291.26 L1347.54,290.74 L1348.64,290.23 L1349.74,289.71 L1350.84,289.19 L1351.94,288.66 L1353.04,288.14 L1354.14,287.61 L1355.24,287.08 L1356.34,286.55 L1357.44,286.01 L1358.54,285.47 L1359.64,284.93 L1360.74,284.39 L1361.84,283.84 L1362.94,283.30 L1364.04,282.75 L1365.14,282.20 L1366.23,281.64 L1367.33,281.09 L1368.43,280.53 L1369.53,279.97 L1370.63,279.41 L1371.73,278.84 L1372.83,278.28 L1373.93,277.71 L1375.03,277.14 L1376.13,276.57 L1377.23,275.99 L1378.33,275.42 L1379.43,274.84 L1380.53,274.26 L1381.63,273.68 L1382.73,273.09 L1383.83,272.51 L1384.93,271.92 L1386.03,271.33 L1387.12,270.74 L1388.22,270.15 L1389.32,269.55 L1390.42,268.96 L1391.52,268.36 L1392.62,267.76 L1393.72,267.16 L1394.82,266.56 L1395.92,265.96 L1397.02,265.35 L1398.12,264.75 L1399.22,264.14 L1400.32,263.53 L1401.42,262.92 L1402.52,262.31 L1403.62,261.69 L1404.72,261.08 L1405.82,260.46 L1406.92,259.85 L1408.01,259.23 L1409.11,258.61 L1410.21,257.99 L1411.31,257.36 L1412.41,256.74 L1413.51,256.12 L1414.61,255.49 L1415.71,254.86 L1416.81,254.24 L1417.91,253.61 L1419.01,252.98 L1420.11,252.35 L1421.21,251.72 L1422.31,251.08 L1423.41,250.45 L1424.51,249.81 L1425.61,249.18 L1426.71,248.54 L1427.81,247.91 L1428.90,247.27 L1430.00,246.63 L1431.10,245.99 L1432.20,245.35 L1433.30,244.71 L1434.40,244.07 L1435.50,243.43 L1436.60,242.78 L1437.70,242.14 L1438.80,241.49 L1439.90,240.85 L1441.00,240.21 L1442.10,239.56 L1443.20,238.91 L1444.30,238.27 L1445.40,237.62 L1446.50,236.97 L1447.60,236.32 L1448.69,235.68 L1449.79,235.03 L1450.89,234.38 L1451.99,233.73 L1453.09,233.08 L1454.19,232.43 L1455.29,231.78 L1456.39,231.13 L1457.49,230.49 L1458.59,229.84 L1459.69,229.19 L1460.79,228.55 L1461.89,227.91 L1462.99,227.27 L1464.09,226.63 L1465.19,226.00 L1466.29,225.37 L1467.39,224.74 L1468.49,224.12 L1469.58,223.50 L1470.68,222.88 L1471.78,222.27 L1472.88,221.66 L1473.98,221.06 L1475.08,220.46 L1476.18,219.87 L1477.28,219.29 L1478.38,218.71 L1479.48,218.14 L1480.58,217.57 L1481.68,217.01 L1482.78,216.46 L1483.88,215.92 L1484.98,215.38 L1486.08,214.85 L1487.18,214.33 L1488.28,213.82 L1489.38,213.32 L1490.47,212.82 L1491.57,212.34 L1492.67,211.87 L1493.77,211.40 L1494.87,210.95 L1495.97,210.50 L1497.07,210.07 L1498.17,209.65 L1499.27,209.24 L1500.37,208.84 L1501.47,208.45 L1502.57,208.08 L1503.67,207.72 L1504.77,207.37 L1505.87,207.03 L1506.97,206.71 L1508.07,206.40 L1509.17,206.10 L1510.27,205.82 L1511.36,205.56 L1512.46,205.30 L1513.56,205.07 L1514.66,204.84 L1515.76,204.64 L1516.86,204.45 L1517.96,204.27 L1519.06,204.12 L1520.16,203.97 L1521.26,203.85 L1522.36,203.74 L1523.46,203.65 L1524.56,203.58 L1525.66,203.53 L1526.76,203.49 L1527.86,203.47 L1528.96,203.47 L1530.06,203.50 L1531.15,203.54 L1532.25,203.60 L1533.35,203.68 L1534.45,203.78 L1535.55,203.90 L1536.65,204.04 L1537.75,204.20 L1538.85,204.38 L1539.95,204.58 L1541.05,204.81 L1542.15,205.05 L1543.25,205.32 L1544.35,205.60 L1545.45,205.91 L1546.55,206.24 L1547.65,206.59 L1548.75,206.96 L1549.85,207.35 L1550.95,207.76 L1552.04,208.19 L1553.14,208.64 L1554.24,209.12 L1555.34,209.61 L1556.44,210.13 L1557.54,210.67 L1558.64,211.23 L1559.74,211.81 L1560.84,212.41 L1561.94,213.03 L1563.04,213.67 L1564.14,214.34 L1565.24,215.03 L1566.34,215.74 L1567.44,216.47 L1568.54,217.22 L1569.64,217.99 L1570.74,218.78 L1571.84,219.60 L1572.93,220.44 L1574.03,221.30 L1575.13,222.18 L1576.23,223.08 L1577.33,224.00 L1578.43,224.95 L1579.53,225.92 L1580.63,226.91 L1581.73,227.92 L1582.83,228.95 L1583.93,230.01 L1585.03,231.08 L1586.13,232.18 L1587.23,233.30 L1588.33,234.45 L1589.43,235.61 L1590.53,236.80 L1591.63,238.01 L1592.73,239.24 L1593.82,240.50 L1594.92,241.77 L1596.02,243.07 L1597.12,244.39 L1598.22,245.74 L1599.32,247.10 L1600.42,248.49 L1601.52,249.90 L1602.62,251.33 L1603.72,252.79 L1604.82,254.27 L1605.92,255.77 L1607.02,257.29 L1608.12,258.84 L1609.22,260.41 L1610.32,262.00 L1611.42,263.61 L1612.52,265.25 L1613.61,266.91 L1614.71,268.59 L1615.81,270.30 L1616.91,272.03 L1618.01,273.78 L1619.11,275.55 L1620.21,277.35 L1621.31,279.17 L1622.41,281.01 L1623.51,282.88 L1624.61,284.77 L1625.71,286.68 L1626.81,288.62 L1627.91,290.57 L1629.01,292.56 L1630.11,294.56 L1631.21,296.59 L1632.31,298.64 L1633.41,300.72 L1634.50,302.82 L1635.60,304.94 L1636.70,307.09 L1637.80,309.25 L1638.90,311.45 L1640.00,313.66 L1641.10,315.90 L1642.20,318.17 L1643.30,320.46 L1644.40,322.77" stroke="#e8191e" stroke-width="3.2" fill="none" stroke-linejoin="round"/>
<path d="M1232.10,61.78 L1233.20,61.99 L1234.30,62.20 L1235.40,62.42 L1236.50,62.64 L1237.60,62.86 L1238.70,63.08 L1239.80,63.31 L1240.90,63.55 L1242.00,63.78 L1243.09,64.02 L1244.19,64.26 L1245.29,64.51 L1246.39,64.76 L1247.49,65.01 L1248.59,65.27 L1249.69,65.52 L1250.79,65.79 L1251.89,66.05 L1252.99,66.32 L1254.09,66.59 L1255.19,66.87 L1256.29,67.15 L1257.39,67.43 L1258.49,67.71 L1259.59,68.00 L1260.69,68.29 L1261.79,68.59 L1262.89,68.89 L1263.98,69.19 L1265.08,69.49 L1266.18,69.80 L1267.28,70.11 L1268.38,70.43 L1269.48,70.74 L1270.58,71.07 L1271.68,71.39 L1272.78,71.72 L1273.88,72.05 L1274.98,72.38 L1276.08,72.72 L1277.18,73.06 L1278.28,73.40 L1279.38,73.74 L1280.48,74.09 L1281.58,74.45 L1282.68,74.80 L1283.77,75.16 L1284.87,75.52 L1285.97,75.89 L1287.07,76.25 L1288.17,76.62 L1289.27,77.00 L1290.37,77.37 L1291.47,77.75 L1292.57,78.14 L1293.67,78.52 L1294.77,78.91 L1295.87,79.31 L1296.97,79.70 L1298.07,80.10 L1299.17,80.50 L1300.27,80.90 L1301.37,81.31 L1302.47,81.72 L1303.57,82.13 L1304.66,82.55 L1305.76,82.97 L1306.86,83.39 L1307.96,83.82 L1309.06,84.25 L1310.16,84.68 L1311.26,85.11 L1312.36,85.55 L1313.46,85.99 L1314.56,86.43 L1315.66,86.88 L1316.76,87.32 L1317.86,87.78 L1318.96,88.23 L1320.06,88.69 L1321.16,89.15 L1322.26,89.61 L1323.36,90.08 L1324.46,90.55 L1325.55,91.02 L1326.65,91.49 L1327.75,91.97 L1328.85,92.45 L1329.95,92.93 L1331.05,93.42 L1332.15,93.91 L1333.25,94.40 L1334.35,94.89 L1335.45,95.39 L1336.55,95.89 L1337.65,96.39 L1338.75,96.90 L1339.85,97.41 L1340.95,97.92 L1342.05,98.43 L1343.15,98.95 L1344.25,99.47 L1345.35,99.99 L1346.44,100.51 L1347.54,101.04 L1348.64,101.57 L1349.74,102.10 L1350.84,102.64 L1351.94,103.18 L1353.04,103.72 L1354.14,104.26 L1355.24,104.81 L1356.34,105.36 L1357.44,105.91 L1358.54,106.46 L1359.64,107.02 L1360.74,107.58 L1361.84,108.14 L1362.94,108.70 L1364.04,109.27 L1365.14,109.84 L1366.23,110.41 L1367.33,110.99 L1368.43,111.57 L1369.53,112.15 L1370.63,112.73 L1371.73,113.32 L1372.83,113.90 L1373.93,114.49 L1375.03,115.09 L1376.13,115.68 L1377.23,116.28 L1378.33,116.88 L1379.43,117.49 L1380.53,118.09 L1381.63,118.70 L1382.73,119.31 L1383.83,119.93 L1384.93,120.54 L1386.03,121.16 L1387.12,121.78 L1388.22,122.40 L1389.32,123.03 L1390.42,123.66 L1391.52,124.29 L1392.62,124.92 L1393.72,125.56 L1394.82,126.20 L1395.92,126.84 L1397.02,127.48 L1398.12,128.13 L1399.22,128.77 L1400.32,129.42 L1401.42,130.08 L1402.52,130.73 L1403.62,131.39 L1404.72,132.05 L1405.82,132.71 L1406.92,133.37 L1408.01,134.04 L1409.11,134.71 L1410.21,135.38 L1411.31,136.06 L1412.41,136.73 L1413.51,137.41 L1414.61,138.09 L1415.71,138.77 L1416.81,139.46 L1417.91,140.15 L1419.01,140.84 L1420.11,141.53 L1421.21,142.22 L1422.31,142.92 L1423.41,143.62 L1424.51,144.32 L1425.61,145.03 L1426.71,145.73 L1427.81,146.44 L1428.90,147.15 L1430.00,147.86 L1431.10,148.58 L1432.20,149.29 L1433.30,150.01 L1434.40,150.73 L1435.50,151.46 L1436.60,152.18 L1437.70,152.91 L1438.80,153.64 L1439.90,154.37 L1441.00,155.11 L1442.10,155.85 L1443.20,156.58 L1444.30,157.32 L1445.40,158.07 L1446.50,158.81 L1447.60,159.56 L1448.69,160.31 L1449.79,161.06 L1450.89,161.81 L1451.99,162.57 L1453.09,163.33 L1454.19,164.09 L1455.29,164.85 L1456.39,165.61 L1457.49,166.37 L1458.59,167.13 L1459.69,167.90 L1460.79,168.66 L1461.89,169.42 L1462.99,170.18 L1464.09,170.94 L1465.19,171.69 L1466.29,172.45 L1467.39,173.20 L1468.49,173.95 L1469.58,174.69 L1470.68,175.43 L1471.78,176.17 L1472.88,176.90 L1473.98,177.63 L1475.08,178.35 L1476.18,179.06 L1477.28,179.77 L1478.38,180.48 L1479.48,181.17 L1480.58,181.86 L1481.68,182.55 L1482.78,183.22 L1483.88,183.89 L1484.98,184.54 L1486.08,185.19 L1487.18,185.83 L1488.28,186.46 L1489.38,187.08 L1490.47,187.69 L1491.57,188.28 L1492.67,188.87 L1493.77,189.44 L1494.87,190.01 L1495.97,190.56 L1497.07,191.09 L1498.17,191.62 L1499.27,192.13 L1500.37,192.63 L1501.47,193.11 L1502.57,193.58 L1503.67,194.03 L1504.77,194.47 L1505.87,194.89 L1506.97,195.30 L1508.07,195.69 L1509.17,196.06 L1510.27,196.42 L1511.36,196.76 L1512.46,197.08 L1513.56,197.38 L1514.66,197.66 L1515.76,197.93 L1516.86,198.17 L1517.96,198.40 L1519.06,198.60 L1520.16,198.79 L1521.26,198.95 L1522.36,199.10 L1523.46,199.22 L1524.56,199.32 L1525.66,199.39 L1526.76,199.45 L1527.86,199.48 L1528.96,199.49 L1530.06,199.47 L1531.15,199.43 L1532.25,199.37 L1533.35,199.28 L1534.45,199.16 L1535.55,199.02 L1536.65,198.86 L1537.75,198.66 L1538.85,198.44 L1539.95,198.20 L1541.05,197.92 L1542.15,197.62 L1543.25,197.29 L1544.35,196.93 L1545.45,196.55 L1546.55,196.14 L1547.65,195.71 L1548.75,195.25 L1549.85,194.76 L1550.95,194.25 L1552.04,193.71 L1553.14,193.14 L1554.24,192.55 L1555.34,191.94 L1556.44,191.30 L1557.54,190.64 L1558.64,189.95 L1559.74,189.24 L1560.84,188.50 L1561.94,187.74 L1563.04,186.96 L1564.14,186.15 L1565.24,185.32 L1566.34,184.47 L1567.44,183.59 L1568.54,182.69 L1569.64,181.77 L1570.74,180.83 L1571.84,179.86 L1572.93,178.87 L1574.03,177.87 L1575.13,176.83 L1576.23,175.78 L1577.33,174.71 L1578.43,173.62 L1579.53,172.50 L1580.63,171.37 L1581.73,170.21 L1582.83,169.04 L1583.93,167.84 L1585.03,166.63 L1586.13,165.40 L1587.23,164.14 L1588.33,162.87 L1589.43,161.58 L1590.53,160.27 L1591.63,158.94 L1592.73,157.59 L1593.82,156.23 L1594.92,154.85 L1596.02,153.45 L1597.12,152.03 L1598.22,150.59 L1599.32,149.14 L1600.42,147.67 L1601.52,146.19 L1602.62,144.68 L1603.72,143.16 L1604.82,141.63 L1605.92,140.08 L1607.02,138.51 L1608.12,136.93 L1609.22,135.33 L1610.32,133.72 L1611.42,132.09 L1612.52,130.45 L1613.61,128.79 L1614.71,127.12 L1615.81,125.43 L1616.91,123.73 L1618.01,122.02 L1619.11,120.29 L1620.21,118.55 L1621.31,116.80 L1622.41,115.03 L1623.51,113.25 L1624.61,111.46 L1625.71,109.65 L1626.81,107.84 L1627.91,106.01 L1629.01,104.17 L1630.11,102.32 L1631.21,100.45 L1632.31,98.58 L1633.41,96.69 L1634.50,94.79 L1635.60,92.89 L1636.70,90.97 L1637.80,89.04 L1638.90,87.10 L1640.00,85.15 L1641.10,83.19 L1642.20,81.23 L1643.30,79.25 L1644.40,77.26" stroke="#3a52a6" stroke-width="3.2" fill="none" stroke-linejoin="round"/>
<path d="M178.63,793.00V783.50M178.63,494.00V503.50M233.57,793.00V783.50M233.57,494.00V503.50M288.50,793.00V783.50M288.50,494.00V503.50M343.43,793.00V783.50M343.43,494.00V503.50M398.37,793.00V783.50M398.37,494.00V503.50M453.30,793.00V783.50M453.30,494.00V503.50M508.23,793.00V783.50M508.23,494.00V503.50M123.70,733.20H133.20M535.70,733.20H526.20M123.70,673.40H133.20M535.70,673.40H526.20M123.70,613.60H133.20M535.70,613.60H526.20M123.70,553.80H133.20M535.70,553.80H526.20" stroke="#000" stroke-width="2.4" fill="none"/><rect x="123.7" y="494.0" width="412.00" height="299.00" stroke="#000" stroke-width="2.4" fill="none"/>
<path d="M123.70,784.85 L124.80,784.81 L125.90,784.76 L127.00,784.71 L128.09,784.66 L129.19,784.61 L130.29,784.56 L131.39,784.50 L132.49,784.44 L133.59,784.38 L134.69,784.31 L135.79,784.24 L136.88,784.17 L137.98,784.10 L139.08,784.02 L140.18,783.95 L141.28,783.87 L142.38,783.78 L143.48,783.70 L144.57,783.61 L145.67,783.52 L146.77,783.43 L147.87,783.34 L148.97,783.24 L150.07,783.14 L151.17,783.04 L152.27,782.93 L153.36,782.83 L154.46,782.72 L155.56,782.61 L156.66,782.49 L157.76,782.38 L158.86,782.26 L159.96,782.14 L161.05,782.01 L162.15,781.89 L163.25,781.76 L164.35,781.63 L165.45,781.50 L166.55,781.36 L167.65,781.23 L168.75,781.09 L169.84,780.95 L170.94,780.81 L172.04,780.66 L173.14,780.51 L174.24,780.36 L175.34,780.21 L176.44,780.06 L177.53,779.90 L178.63,779.74 L179.73,779.58 L180.83,779.42 L181.93,779.25 L183.03,779.09 L184.13,778.92 L185.23,778.75 L186.32,778.57 L187.42,778.40 L188.52,778.22 L189.62,778.04 L190.72,777.86 L191.82,777.67 L192.92,777.49 L194.01,777.30 L195.11,777.11 L196.21,776.92 L197.31,776.73 L198.41,776.53 L199.51,776.33 L200.61,776.13 L201.71,775.93 L202.80,775.73 L203.90,775.52 L205.00,775.32 L206.10,775.11 L207.20,774.90 L208.30,774.68 L209.40,774.47 L210.49,774.25 L211.59,774.03 L212.69,773.81 L213.79,773.59 L214.89,773.36 L215.99,773.14 L217.09,772.91 L218.19,772.68 L219.28,772.45 L220.38,772.21 L221.48,771.98 L222.58,771.74 L223.68,771.50 L224.78,771.26 L225.88,771.02 L226.97,770.78 L228.07,770.53 L229.17,770.28 L230.27,770.03 L231.37,769.78 L232.47,769.53 L233.57,769.28 L234.67,769.02 L235.76,768.76 L236.86,768.50 L237.96,768.24 L239.06,767.98 L240.16,767.71 L241.26,767.45 L242.36,767.18 L243.45,766.91 L244.55,766.64 L245.65,766.37 L246.75,766.10 L247.85,765.82 L248.95,765.54 L250.05,765.26 L251.15,764.98 L252.24,764.70 L253.34,764.42 L254.44,764.13 L255.54,763.85 L256.64,763.56 L257.74,763.27 L258.84,762.98 L259.93,762.69 L261.03,762.39 L262.13,762.10 L263.23,761.80 L264.33,761.50 L265.43,761.21 L266.53,760.90 L267.63,760.60 L268.72,760.30 L269.82,759.99 L270.92,759.69 L272.02,759.38 L273.12,759.07 L274.22,758.76 L275.32,758.45 L276.41,758.14 L277.51,757.82 L278.61,757.51 L279.71,757.19 L280.81,756.87 L281.91,756.55 L283.01,756.23 L284.11,755.91 L285.20,755.58 L286.30,755.26 L287.40,754.93 L288.50,754.61 L289.60,754.28 L290.70,753.95 L291.80,753.62 L292.89,753.29 L293.99,752.95 L295.09,752.62 L296.19,752.28 L297.29,751.95 L298.39,751.61 L299.49,751.27 L300.59,750.93 L301.68,750.59 L302.78,750.25 L303.88,749.90 L304.98,749.56 L306.08,749.21 L307.18,748.87 L308.28,748.52 L309.37,748.17 L310.47,747.82 L311.57,747.47 L312.67,747.12 L313.77,746.76 L314.87,746.41 L315.97,746.06 L317.07,745.70 L318.16,745.34 L319.26,744.98 L320.36,744.63 L321.46,744.27 L322.56,743.91 L323.66,743.54 L324.76,743.18 L325.85,742.82 L326.95,742.45 L328.05,742.09 L329.15,741.72 L330.25,741.36 L331.35,740.99 L332.45,740.62 L333.55,740.25 L334.64,739.88 L335.74,739.51 L336.84,739.14 L337.94,738.76 L339.04,738.39 L340.14,738.01 L341.24,737.64 L342.33,737.26 L343.43,736.89 L344.53,736.51 L345.63,736.13 L346.73,735.75 L347.83,735.37 L348.93,735.00 L350.03,734.62 L351.12,734.24 L352.22,733.86 L353.32,733.49 L354.42,733.11 L355.52,732.74 L356.62,732.36 L357.72,731.99 L358.81,731.62 L359.91,731.26 L361.01,730.89 L362.11,730.53 L363.21,730.17 L364.31,729.81 L365.41,729.46 L366.51,729.11 L367.60,728.76 L368.70,728.42 L369.80,728.08 L370.90,727.74 L372.00,727.41 L373.10,727.09 L374.20,726.77 L375.29,726.45 L376.39,726.14 L377.49,725.83 L378.59,725.53 L379.69,725.23 L380.79,724.94 L381.89,724.66 L382.99,724.38 L384.08,724.11 L385.18,723.85 L386.28,723.59 L387.38,723.34 L388.48,723.10 L389.58,722.87 L390.68,722.64 L391.77,722.42 L392.87,722.21 L393.97,722.00 L395.07,721.81 L396.17,721.62 L397.27,721.45 L398.37,721.28 L399.47,721.12 L400.56,720.97 L401.66,720.83 L402.76,720.71 L403.86,720.59 L404.96,720.48 L406.06,720.38 L407.16,720.29 L408.25,720.22 L409.35,720.15 L410.45,720.10 L411.55,720.05 L412.65,720.02 L413.75,720.00 L414.85,720.00 L415.95,720.00 L417.04,720.02 L418.14,720.05 L419.24,720.10 L420.34,720.15 L421.44,720.22 L422.54,720.31 L423.64,720.41 L424.73,720.52 L425.83,720.64 L426.93,720.78 L428.03,720.94 L429.13,721.11 L430.23,721.29 L431.33,721.49 L432.43,721.70 L433.52,721.92 L434.62,722.16 L435.72,722.41 L436.82,722.68 L437.92,722.95 L439.02,723.24 L440.12,723.55 L441.21,723.86 L442.31,724.19 L443.41,724.54 L444.51,724.89 L445.61,725.26 L446.71,725.64 L447.81,726.03 L448.91,726.43 L450.00,726.85 L451.10,727.28 L452.20,727.72 L453.30,728.17 L454.40,728.63 L455.50,729.10 L456.60,729.59 L457.69,730.09 L458.79,730.59 L459.89,731.11 L460.99,731.64 L462.09,732.18 L463.19,732.73 L464.29,733.29 L465.39,733.86 L466.48,734.45 L467.58,735.04 L468.68,735.64 L469.78,736.25 L470.88,736.87 L471.98,737.51 L473.08,738.15 L474.17,738.80 L475.27,739.46 L476.37,740.13 L477.47,740.80 L478.57,741.49 L479.67,742.19 L480.77,742.89 L481.87,743.61 L482.96,744.33 L484.06,745.06 L485.16,745.80 L486.26,746.55 L487.36,747.30 L488.46,748.07 L489.56,748.84 L490.65,749.62 L491.75,750.40 L492.85,751.20 L493.95,752.00 L495.05,752.81 L496.15,753.62 L497.25,754.45 L498.35,755.28 L499.44,756.11 L500.54,756.96 L501.64,757.81 L502.74,758.67 L503.84,759.53 L504.94,760.40 L506.04,761.28 L507.13,762.16 L508.23,763.04 L509.33,763.94 L510.43,764.84 L511.53,765.74 L512.63,766.65 L513.73,767.57 L514.83,768.49 L515.92,769.42 L517.02,770.35 L518.12,771.29 L519.22,772.23 L520.32,773.17 L521.42,774.12 L522.52,775.08 L523.61,776.04 L524.71,777.00 L525.81,777.97 L526.91,778.94 L528.01,779.92 L529.11,780.90 L530.21,781.88 L531.31,782.87 L532.40,783.86 L533.50,784.85 L534.60,785.85 L535.70,786.85" stroke="#e8191e" stroke-width="3.2" fill="none" stroke-linejoin="round"/>
<path d="M123.70,503.86 L124.80,504.01 L125.90,504.17 L127.00,504.32 L128.09,504.48 L129.19,504.63 L130.29,504.79 L131.39,504.95 L132.49,505.10 L133.59,505.26 L134.69,505.42 L135.79,505.58 L136.88,505.74 L137.98,505.90 L139.08,506.06 L140.18,506.23 L141.28,506.39 L142.38,506.55 L143.48,506.72 L144.57,506.88 L145.67,507.05 L146.77,507.22 L147.87,507.38 L148.97,507.55 L150.07,507.72 L151.17,507.89 L152.27,508.06 L153.36,508.23 L154.46,508.41 L155.56,508.58 L156.66,508.75 L157.76,508.93 L158.86,509.11 L159.96,509.28 L161.05,509.46 L162.15,509.64 L163.25,509.82 L164.35,510.00 L165.45,510.18 L166.55,510.36 L167.65,510.55 L168.75,510.73 L169.84,510.92 L170.94,511.11 L172.04,511.29 L173.14,511.48 L174.24,511.67 L175.34,511.86 L176.44,512.06 L177.53,512.25 L178.63,512.44 L179.73,512.64 L180.83,512.84 L181.93,513.03 L183.03,513.23 L184.13,513.43 L185.23,513.64 L186.32,513.84 L187.42,514.04 L188.52,514.25 L189.62,514.45 L190.72,514.66 L191.82,514.87 L192.92,515.08 L194.01,515.29 L195.11,515.50 L196.21,515.72 L197.31,515.93 L198.41,516.15 L199.51,516.37 L200.61,516.59 L201.71,516.81 L202.80,517.03 L203.90,517.25 L205.00,517.48 L206.10,517.71 L207.20,517.93 L208.30,518.16 L209.40,518.39 L210.49,518.63 L211.59,518.86 L212.69,519.09 L213.79,519.33 L214.89,519.57 L215.99,519.81 L217.09,520.05 L218.19,520.29 L219.28,520.54 L220.38,520.78 L221.48,521.03 L222.58,521.28 L223.68,521.53 L224.78,521.78 L225.88,522.04 L226.97,522.29 L228.07,522.55 L229.17,522.81 L230.27,523.07 L231.37,523.33 L232.47,523.59 L233.57,523.86 L234.67,524.13 L235.76,524.40 L236.86,524.67 L237.96,524.94 L239.06,525.21 L240.16,525.49 L241.26,525.77 L242.36,526.05 L243.45,526.33 L244.55,526.61 L245.65,526.90 L246.75,527.19 L247.85,527.47 L248.95,527.77 L250.05,528.06 L251.15,528.35 L252.24,528.65 L253.34,528.95 L254.44,529.25 L255.54,529.55 L256.64,529.86 L257.74,530.16 L258.84,530.47 L259.93,530.78 L261.03,531.09 L262.13,531.41 L263.23,531.72 L264.33,532.04 L265.43,532.36 L266.53,532.69 L267.63,533.01 L268.72,533.34 L269.82,533.67 L270.92,534.00 L272.02,534.33 L273.12,534.67 L274.22,535.00 L275.32,535.34 L276.41,535.68 L277.51,536.03 L278.61,536.37 L279.71,536.72 L280.81,537.07 L281.91,537.43 L283.01,537.78 L284.11,538.14 L285.20,538.50 L286.30,538.86 L287.40,539.22 L288.50,539.59 L289.60,539.96 L290.70,540.33 L291.80,540.70 L292.89,541.08 L293.99,541.46 L295.09,541.84 L296.19,542.22 L297.29,542.61 L298.39,543.00 L299.49,543.39 L300.59,543.78 L301.68,544.17 L302.78,544.57 L303.88,544.97 L304.98,545.37 L306.08,545.78 L307.18,546.19 L308.28,546.60 L309.37,547.01 L310.47,547.43 L311.57,547.84 L312.67,548.26 L313.77,548.69 L314.87,549.11 L315.97,549.54 L317.07,549.97 L318.16,550.40 L319.26,550.84 L320.36,551.28 L321.46,551.72 L322.56,552.16 L323.66,552.61 L324.76,553.06 L325.85,553.51 L326.95,553.97 L328.05,554.42 L329.15,554.89 L330.25,555.35 L331.35,555.81 L332.45,556.28 L333.55,556.75 L334.64,557.23 L335.74,557.71 L336.84,558.19 L337.94,558.67 L339.04,559.15 L340.14,559.64 L341.24,560.13 L342.33,560.63 L343.43,561.13 L344.53,561.63 L345.63,562.13 L346.73,562.63 L347.83,563.14 L348.93,563.65 L350.03,564.16 L351.12,564.67 L352.22,565.18 L353.32,565.69 L354.42,566.20 L355.52,566.71 L356.62,567.22 L357.72,567.73 L358.81,568.24 L359.91,568.75 L361.01,569.25 L362.11,569.76 L363.21,570.25 L364.31,570.75 L365.41,571.24 L366.51,571.73 L367.60,572.22 L368.70,572.70 L369.80,573.18 L370.90,573.65 L372.00,574.12 L373.10,574.58 L374.20,575.03 L375.29,575.48 L376.39,575.92 L377.49,576.36 L378.59,576.78 L379.69,577.21 L380.79,577.62 L381.89,578.02 L382.99,578.42 L384.08,578.80 L385.18,579.18 L386.28,579.55 L387.38,579.91 L388.48,580.26 L389.58,580.59 L390.68,580.92 L391.77,581.23 L392.87,581.54 L393.97,581.83 L395.07,582.11 L396.17,582.38 L397.27,582.63 L398.37,582.87 L399.47,583.10 L400.56,583.32 L401.66,583.52 L402.76,583.70 L403.86,583.88 L404.96,584.03 L406.06,584.18 L407.16,584.31 L408.25,584.42 L409.35,584.52 L410.45,584.60 L411.55,584.67 L412.65,584.73 L413.75,584.77 L414.85,584.79 L415.95,584.80 L417.04,584.79 L418.14,584.76 L419.24,584.72 L420.34,584.66 L421.44,584.59 L422.54,584.49 L423.64,584.39 L424.73,584.26 L425.83,584.12 L426.93,583.96 L428.03,583.78 L429.13,583.58 L430.23,583.37 L431.33,583.14 L432.43,582.90 L433.52,582.64 L434.62,582.36 L435.72,582.07 L436.82,581.76 L437.92,581.44 L439.02,581.10 L440.12,580.74 L441.21,580.37 L442.31,579.99 L443.41,579.59 L444.51,579.17 L445.61,578.75 L446.71,578.30 L447.81,577.85 L448.91,577.38 L450.00,576.90 L451.10,576.40 L452.20,575.89 L453.30,575.37 L454.40,574.84 L455.50,574.29 L456.60,573.73 L457.69,573.16 L458.79,572.58 L459.89,571.98 L460.99,571.38 L462.09,570.76 L463.19,570.13 L464.29,569.49 L465.39,568.84 L466.48,568.18 L467.58,567.51 L468.68,566.83 L469.78,566.13 L470.88,565.43 L471.98,564.72 L473.08,564.00 L474.17,563.27 L475.27,562.53 L476.37,561.79 L477.47,561.03 L478.57,560.27 L479.67,559.49 L480.77,558.71 L481.87,557.92 L482.96,557.13 L484.06,556.32 L485.16,555.51 L486.26,554.69 L487.36,553.87 L488.46,553.04 L489.56,552.20 L490.65,551.35 L491.75,550.50 L492.85,549.64 L493.95,548.78 L495.05,547.91 L496.15,547.04 L497.25,546.16 L498.35,545.27 L499.44,544.39 L500.54,543.49 L501.64,542.59 L502.74,541.69 L503.84,540.78 L504.94,539.87 L506.04,538.96 L507.13,538.04 L508.23,537.12 L509.33,536.20 L510.43,535.27 L511.53,534.34 L512.63,533.41 L513.73,532.47 L514.83,531.54 L515.92,530.60 L517.02,529.66 L518.12,528.72 L519.22,527.77 L520.32,526.83 L521.42,525.88 L522.52,524.94 L523.61,523.99 L524.71,523.04 L525.81,522.09 L526.91,521.15 L528.01,520.20 L529.11,519.25 L530.21,518.30 L531.31,517.36 L532.40,516.41 L533.50,515.47 L534.60,514.53 L535.70,513.58" stroke="#3a52a6" stroke-width="3.2" fill="none" stroke-linejoin="round"/>
<path d="M732.97,794.70V785.20M732.97,495.50V505.00M787.95,794.70V785.20M787.95,495.50V505.00M842.92,794.70V785.20M842.92,495.50V505.00M897.89,794.70V785.20M897.89,495.50V505.00M952.87,794.70V785.20M952.87,495.50V505.00M1007.84,794.70V785.20M1007.84,495.50V505.00M1062.81,794.70V785.20M1062.81,495.50V505.00M678.00,734.86H687.50M1090.30,734.86H1080.80M678.00,675.02H687.50M1090.30,675.02H1080.80M678.00,615.18H687.50M1090.30,615.18H1080.80M678.00,555.34H687.50M1090.30,555.34H1080.80" stroke="#000" stroke-width="2.4" fill="none"/><rect x="678.0" y="495.5" width="412.30" height="299.20" stroke="#000" stroke-width="2.4" fill="none"/>
<path d="M678.00,794.08 L679.10,794.08 L680.20,794.09 L681.30,794.09 L682.40,794.09 L683.50,794.10 L684.60,794.10 L685.70,794.10 L686.80,794.10 L687.90,794.11 L688.99,794.11 L690.09,794.11 L691.19,794.11 L692.29,794.12 L693.39,794.12 L694.49,794.12 L695.59,794.12 L696.69,794.12 L697.79,794.12 L698.89,794.12 L699.99,794.13 L701.09,794.13 L702.19,794.13 L703.29,794.13 L704.39,794.13 L705.49,794.13 L706.59,794.13 L707.69,794.13 L708.79,794.13 L709.88,794.13 L710.98,794.13 L712.08,794.13 L713.18,794.13 L714.28,794.13 L715.38,794.13 L716.48,794.13 L717.58,794.13 L718.68,794.13 L719.78,794.12 L720.88,794.12 L721.98,794.12 L723.08,794.12 L724.18,794.12 L725.28,794.12 L726.38,794.12 L727.48,794.11 L728.58,794.11 L729.67,794.11 L730.77,794.11 L731.87,794.11 L732.97,794.10 L734.07,794.10 L735.17,794.10 L736.27,794.10 L737.37,794.10 L738.47,794.09 L739.57,794.09 L740.67,794.09 L741.77,794.08 L742.87,794.08 L743.97,794.08 L745.07,794.08 L746.17,794.07 L747.27,794.07 L748.37,794.07 L749.47,794.06 L750.56,794.06 L751.66,794.06 L752.76,794.05 L753.86,794.05 L754.96,794.04 L756.06,794.04 L757.16,794.04 L758.26,794.03 L759.36,794.03 L760.46,794.02 L761.56,794.02 L762.66,794.02 L763.76,794.01 L764.86,794.01 L765.96,794.00 L767.06,794.00 L768.16,793.99 L769.26,793.99 L770.36,793.98 L771.45,793.98 L772.55,793.97 L773.65,793.97 L774.75,793.96 L775.85,793.96 L776.95,793.95 L778.05,793.95 L779.15,793.94 L780.25,793.94 L781.35,793.93 L782.45,793.93 L783.55,793.92 L784.65,793.92 L785.75,793.91 L786.85,793.91 L787.95,793.90 L789.05,793.90 L790.15,793.89 L791.25,793.88 L792.34,793.88 L793.44,793.87 L794.54,793.87 L795.64,793.86 L796.74,793.86 L797.84,793.85 L798.94,793.84 L800.04,793.84 L801.14,793.83 L802.24,793.83 L803.34,793.82 L804.44,793.81 L805.54,793.81 L806.64,793.80 L807.74,793.79 L808.84,793.79 L809.94,793.78 L811.04,793.78 L812.13,793.77 L813.23,793.76 L814.33,793.76 L815.43,793.75 L816.53,793.74 L817.63,793.74 L818.73,793.73 L819.83,793.73 L820.93,793.72 L822.03,793.71 L823.13,793.71 L824.23,793.70 L825.33,793.69 L826.43,793.69 L827.53,793.68 L828.63,793.67 L829.73,793.67 L830.83,793.66 L831.93,793.65 L833.02,793.65 L834.12,793.64 L835.22,793.63 L836.32,793.63 L837.42,793.62 L838.52,793.62 L839.62,793.61 L840.72,793.60 L841.82,793.60 L842.92,793.59 L844.02,793.58 L845.12,793.58 L846.22,793.57 L847.32,793.56 L848.42,793.56 L849.52,793.55 L850.62,793.54 L851.72,793.54 L852.82,793.53 L853.91,793.52 L855.01,793.52 L856.11,793.51 L857.21,793.51 L858.31,793.50 L859.41,793.49 L860.51,793.49 L861.61,793.48 L862.71,793.47 L863.81,793.47 L864.91,793.46 L866.01,793.46 L867.11,793.45 L868.21,793.44 L869.31,793.44 L870.41,793.43 L871.51,793.43 L872.61,793.42 L873.71,793.41 L874.80,793.41 L875.90,793.40 L877.00,793.40 L878.10,793.39 L879.20,793.38 L880.30,793.38 L881.40,793.37 L882.50,793.37 L883.60,793.36 L884.70,793.36 L885.80,793.35 L886.90,793.34 L888.00,793.34 L889.10,793.33 L890.20,793.33 L891.30,793.32 L892.40,793.32 L893.50,793.31 L894.59,793.31 L895.69,793.30 L896.79,793.30 L897.89,793.29 L898.99,793.29 L900.09,793.28 L901.19,793.28 L902.29,793.27 L903.39,793.27 L904.49,793.26 L905.59,793.26 L906.69,793.25 L907.79,793.25 L908.89,793.24 L909.99,793.24 L911.09,793.24 L912.19,793.23 L913.29,793.23 L914.39,793.22 L915.48,793.22 L916.58,793.21 L917.68,793.21 L918.78,793.21 L919.88,793.20 L920.98,793.20 L922.08,793.20 L923.18,793.19 L924.28,793.19 L925.38,793.19 L926.48,793.18 L927.58,793.18 L928.68,793.18 L929.78,793.17 L930.88,793.17 L931.98,793.17 L933.08,793.16 L934.18,793.16 L935.28,793.16 L936.37,793.16 L937.47,793.15 L938.57,793.15 L939.67,793.15 L940.77,793.15 L941.87,793.14 L942.97,793.14 L944.07,793.14 L945.17,793.14 L946.27,793.14 L947.37,793.14 L948.47,793.13 L949.57,793.13 L950.67,793.13 L951.77,793.13 L952.87,793.13 L953.97,793.13 L955.07,793.13 L956.17,793.13 L957.26,793.12 L958.36,793.12 L959.46,793.12 L960.56,793.12 L961.66,793.12 L962.76,793.12 L963.86,793.12 L964.96,793.12 L966.06,793.12 L967.16,793.12 L968.26,793.12 L969.36,793.12 L970.46,793.12 L971.56,793.13 L972.66,793.13 L973.76,793.13 L974.86,793.13 L975.96,793.13 L977.05,793.13 L978.15,793.13 L979.25,793.13 L980.35,793.14 L981.45,793.14 L982.55,793.14 L983.65,793.14 L984.75,793.14 L985.85,793.15 L986.95,793.15 L988.05,793.15 L989.15,793.15 L990.25,793.16 L991.35,793.16 L992.45,793.16 L993.55,793.17 L994.65,793.17 L995.75,793.17 L996.85,793.18 L997.94,793.18 L999.04,793.18 L1000.14,793.19 L1001.24,793.19 L1002.34,793.20 L1003.44,793.20 L1004.54,793.21 L1005.64,793.21 L1006.74,793.22 L1007.84,793.22 L1008.94,793.23 L1010.04,793.23 L1011.14,793.24 L1012.24,793.24 L1013.34,793.25 L1014.44,793.26 L1015.54,793.26 L1016.64,793.27 L1017.74,793.28 L1018.83,793.28 L1019.93,793.29 L1021.03,793.30 L1022.13,793.30 L1023.23,793.31 L1024.33,793.32 L1025.43,793.33 L1026.53,793.33 L1027.63,793.34 L1028.73,793.35 L1029.83,793.36 L1030.93,793.37 L1032.03,793.38 L1033.13,793.38 L1034.23,793.39 L1035.33,793.40 L1036.43,793.41 L1037.53,793.42 L1038.63,793.43 L1039.72,793.44 L1040.82,793.45 L1041.92,793.46 L1043.02,793.47 L1044.12,793.48 L1045.22,793.49 L1046.32,793.50 L1047.42,793.52 L1048.52,793.53 L1049.62,793.54 L1050.72,793.55 L1051.82,793.56 L1052.92,793.57 L1054.02,793.59 L1055.12,793.60 L1056.22,793.61 L1057.32,793.62 L1058.42,793.64 L1059.51,793.65 L1060.61,793.66 L1061.71,793.68 L1062.81,793.69 L1063.91,793.71 L1065.01,793.72 L1066.11,793.73 L1067.21,793.75 L1068.31,793.76 L1069.41,793.78 L1070.51,793.79 L1071.61,793.81 L1072.71,793.83 L1073.81,793.84 L1074.91,793.86 L1076.01,793.87 L1077.11,793.89 L1078.21,793.91 L1079.31,793.92 L1080.40,793.94 L1081.50,793.96 L1082.60,793.98 L1083.70,793.99 L1084.80,794.01 L1085.90,794.03 L1087.00,794.05 L1088.10,794.07 L1089.20,794.09 L1090.30,794.11" stroke="#e8191e" stroke-width="3.2" fill="none" stroke-linejoin="round"/>
<path d="M678.00,497.37 L679.10,497.37 L680.20,497.38 L681.30,497.39 L682.40,497.40 L683.50,497.41 L684.60,497.42 L685.70,497.43 L686.80,497.45 L687.90,497.46 L688.99,497.48 L690.09,497.49 L691.19,497.51 L692.29,497.53 L693.39,497.55 L694.49,497.56 L695.59,497.58 L696.69,497.60 L697.79,497.63 L698.89,497.65 L699.99,497.67 L701.09,497.69 L702.19,497.72 L703.29,497.74 L704.39,497.77 L705.49,497.79 L706.59,497.82 L707.69,497.85 L708.79,497.87 L709.88,497.90 L710.98,497.93 L712.08,497.96 L713.18,497.99 L714.28,498.02 L715.38,498.05 L716.48,498.08 L717.58,498.11 L718.68,498.14 L719.78,498.18 L720.88,498.21 L721.98,498.24 L723.08,498.28 L724.18,498.31 L725.28,498.34 L726.38,498.38 L727.48,498.41 L728.58,498.45 L729.67,498.48 L730.77,498.52 L731.87,498.56 L732.97,498.59 L734.07,498.63 L735.17,498.67 L736.27,498.71 L737.37,498.74 L738.47,498.78 L739.57,498.82 L740.67,498.86 L741.77,498.89 L742.87,498.93 L743.97,498.97 L745.07,499.01 L746.17,499.05 L747.27,499.09 L748.37,499.13 L749.47,499.17 L750.56,499.20 L751.66,499.24 L752.76,499.28 L753.86,499.32 L754.96,499.36 L756.06,499.40 L757.16,499.44 L758.26,499.48 L759.36,499.52 L760.46,499.55 L761.56,499.59 L762.66,499.63 L763.76,499.67 L764.86,499.71 L765.96,499.75 L767.06,499.79 L768.16,499.82 L769.26,499.86 L770.36,499.90 L771.45,499.94 L772.55,499.97 L773.65,500.01 L774.75,500.05 L775.85,500.08 L776.95,500.12 L778.05,500.15 L779.15,500.19 L780.25,500.22 L781.35,500.26 L782.45,500.29 L783.55,500.33 L784.65,500.36 L785.75,500.39 L786.85,500.43 L787.95,500.46 L789.05,500.49 L790.15,500.52 L791.25,500.55 L792.34,500.58 L793.44,500.62 L794.54,500.65 L795.64,500.68 L796.74,500.70 L797.84,500.73 L798.94,500.76 L800.04,500.79 L801.14,500.82 L802.24,500.85 L803.34,500.88 L804.44,500.91 L805.54,500.93 L806.64,500.96 L807.74,500.99 L808.84,501.02 L809.94,501.05 L811.04,501.07 L812.13,501.10 L813.23,501.13 L814.33,501.16 L815.43,501.18 L816.53,501.21 L817.63,501.24 L818.73,501.27 L819.83,501.30 L820.93,501.33 L822.03,501.36 L823.13,501.39 L824.23,501.42 L825.33,501.45 L826.43,501.48 L827.53,501.51 L828.63,501.54 L829.73,501.57 L830.83,501.60 L831.93,501.63 L833.02,501.67 L834.12,501.70 L835.22,501.73 L836.32,501.77 L837.42,501.80 L838.52,501.84 L839.62,501.87 L840.72,501.91 L841.82,501.94 L842.92,501.98 L844.02,502.02 L845.12,502.06 L846.22,502.10 L847.32,502.14 L848.42,502.18 L849.52,502.22 L850.62,502.27 L851.72,502.31 L852.82,502.35 L853.91,502.40 L855.01,502.44 L856.11,502.49 L857.21,502.54 L858.31,502.59 L859.41,502.64 L860.51,502.69 L861.61,502.74 L862.71,502.79 L863.81,502.85 L864.91,502.90 L866.01,502.96 L867.11,503.02 L868.21,503.08 L869.31,503.14 L870.41,503.20 L871.51,503.26 L872.61,503.32 L873.71,503.39 L874.80,503.45 L875.90,503.52 L877.00,503.59 L878.10,503.66 L879.20,503.73 L880.30,503.80 L881.40,503.88 L882.50,503.95 L883.60,504.03 L884.70,504.11 L885.80,504.19 L886.90,504.27 L888.00,504.35 L889.10,504.43 L890.20,504.52 L891.30,504.61 L892.40,504.70 L893.50,504.79 L894.59,504.88 L895.69,504.98 L896.79,505.07 L897.89,505.17 L898.99,505.27 L900.09,505.37 L901.19,505.47 L902.29,505.58 L903.39,505.69 L904.49,505.79 L905.59,505.90 L906.69,506.01 L907.79,506.13 L908.89,506.24 L909.99,506.35 L911.09,506.47 L912.19,506.59 L913.29,506.71 L914.39,506.82 L915.48,506.94 L916.58,507.07 L917.68,507.19 L918.78,507.31 L919.88,507.44 L920.98,507.56 L922.08,507.69 L923.18,507.81 L924.28,507.94 L925.38,508.07 L926.48,508.20 L927.58,508.33 L928.68,508.45 L929.78,508.58 L930.88,508.71 L931.98,508.84 L933.08,508.98 L934.18,509.11 L935.28,509.24 L936.37,509.37 L937.47,509.50 L938.57,509.63 L939.67,509.76 L940.77,509.89 L941.87,510.03 L942.97,510.16 L944.07,510.29 L945.17,510.42 L946.27,510.55 L947.37,510.68 L948.47,510.81 L949.57,510.94 L950.67,511.07 L951.77,511.19 L952.87,511.32 L953.97,511.45 L955.07,511.57 L956.17,511.70 L957.26,511.82 L958.36,511.95 L959.46,512.07 L960.56,512.19 L961.66,512.32 L962.76,512.44 L963.86,512.55 L964.96,512.67 L966.06,512.79 L967.16,512.90 L968.26,513.02 L969.36,513.13 L970.46,513.24 L971.56,513.35 L972.66,513.46 L973.76,513.57 L974.86,513.68 L975.96,513.78 L977.05,513.88 L978.15,513.98 L979.25,514.08 L980.35,514.18 L981.45,514.28 L982.55,514.37 L983.65,514.46 L984.75,514.55 L985.85,514.64 L986.95,514.72 L988.05,514.81 L989.15,514.89 L990.25,514.97 L991.35,515.05 L992.45,515.12 L993.55,515.19 L994.65,515.26 L995.75,515.33 L996.85,515.39 L997.94,515.46 L999.04,515.52 L1000.14,515.57 L1001.24,515.63 L1002.34,515.68 L1003.44,515.73 L1004.54,515.78 L1005.64,515.82 L1006.74,515.86 L1007.84,515.90 L1008.94,515.93 L1010.04,515.96 L1011.14,515.99 L1012.24,516.01 L1013.34,516.03 L1014.44,516.05 L1015.54,516.06 L1016.64,516.07 L1017.74,516.08 L1018.83,516.07 L1019.93,516.07 L1021.03,516.06 L1022.13,516.05 L1023.23,516.03 L1024.33,516.00 L1025.43,515.97 L1026.53,515.94 L1027.63,515.89 L1028.73,515.85 L1029.83,515.79 L1030.93,515.73 L1032.03,515.67 L1033.13,515.59 L1034.23,515.51 L1035.33,515.43 L1036.43,515.34 L1037.53,515.24 L1038.63,515.13 L1039.72,515.01 L1040.82,514.89 L1041.92,514.76 L1043.02,514.62 L1044.12,514.48 L1045.22,514.32 L1046.32,514.16 L1047.42,514.00 L1048.52,513.82 L1049.62,513.64 L1050.72,513.46 L1051.82,513.26 L1052.92,513.06 L1054.02,512.86 L1055.12,512.65 L1056.22,512.43 L1057.32,512.21 L1058.42,511.98 L1059.51,511.75 L1060.61,511.51 L1061.71,511.27 L1062.81,511.03 L1063.91,510.78 L1065.01,510.52 L1066.11,510.26 L1067.21,510.00 L1068.31,509.73 L1069.41,509.46 L1070.51,509.19 L1071.61,508.91 L1072.71,508.63 L1073.81,508.35 L1074.91,508.06 L1076.01,507.78 L1077.11,507.49 L1078.21,507.19 L1079.31,506.90 L1080.40,506.60 L1081.50,506.31 L1082.60,506.01 L1083.70,505.71 L1084.80,505.40 L1085.90,505.10 L1087.00,504.80 L1088.10,504.49 L1089.20,504.19 L1090.30,503.88" stroke="#3a52a6" stroke-width="3.2" fill="none" stroke-linejoin="round"/>
<g fill="#e8191e"><circle cx="1233.00" cy="502.98" r="5.0"/><circle cx="1242.15" cy="502.98" r="5.0"/><circle cx="1251.30" cy="504.18" r="5.0"/><circle cx="1260.45" cy="505.37" r="5.0"/><circle cx="1269.60" cy="507.47" r="5.0"/><circle cx="1278.76" cy="510.16" r="5.0"/><circle cx="1287.91" cy="514.05" r="5.0"/><circle cx="1297.06" cy="518.24" r="5.0"/><circle cx="1306.21" cy="523.33" r="5.0"/><circle cx="1315.36" cy="529.02" r="5.0"/><circle cx="1324.51" cy="535.30" r="5.0"/><circle cx="1333.66" cy="543.38" r="5.0"/><circle cx="1342.81" cy="551.17" r="5.0"/><circle cx="1351.96" cy="560.44" r="5.0"/><circle cx="1361.12" cy="570.02" r="5.0"/><circle cx="1370.27" cy="579.30" r="5.0"/><circle cx="1379.42" cy="588.88" r="5.0"/><circle cx="1388.57" cy="599.35" r="5.0"/><circle cx="1397.72" cy="610.43" r="5.0"/><circle cx="1406.87" cy="620.90" r="5.0"/><circle cx="1416.02" cy="631.38" r="5.0"/><circle cx="1425.17" cy="641.55" r="5.0"/><circle cx="1434.32" cy="652.63" r="5.0"/><circle cx="1443.48" cy="662.81" r="5.0"/><circle cx="1452.63" cy="673.28" r="5.0"/><circle cx="1461.78" cy="682.56" r="5.0"/><circle cx="1470.93" cy="692.14" r="5.0"/><circle cx="1480.08" cy="701.71" r="5.0"/><circle cx="1489.23" cy="710.69" r="5.0"/><circle cx="1498.38" cy="719.67" r="5.0"/><circle cx="1507.53" cy="727.15" r="5.0"/><circle cx="1516.68" cy="735.24" r="5.0"/><circle cx="1525.84" cy="742.12" r="5.0"/><circle cx="1534.99" cy="748.11" r="5.0"/><circle cx="1544.14" cy="754.39" r="5.0"/><circle cx="1553.29" cy="759.78" r="5.0"/><circle cx="1562.44" cy="764.87" r="5.0"/><circle cx="1571.59" cy="769.66" r="5.0"/><circle cx="1580.74" cy="774.14" r="5.0"/><circle cx="1589.89" cy="777.74" r="5.0"/><circle cx="1599.04" cy="781.33" r="5.0"/><circle cx="1608.20" cy="784.32" r="5.0"/><circle cx="1617.35" cy="786.42" r="5.0"/><circle cx="1626.50" cy="788.51" r="5.0"/><circle cx="1635.65" cy="789.71" r="5.0"/><circle cx="1644.80" cy="791.50" r="5.0"/></g>
<g fill="#3a52a6"><rect x="1228.20" y="788.20" width="9.6" height="9.6"/><rect x="1237.35" y="787.60" width="9.6" height="9.6"/><rect x="1246.50" y="787.00" width="9.6" height="9.6"/><rect x="1255.65" y="786.40" width="9.6" height="9.6"/><rect x="1264.80" y="784.46" width="9.6" height="9.6"/><rect x="1273.96" y="782.21" width="9.6" height="9.6"/><rect x="1283.11" y="779.22" width="9.6" height="9.6"/><rect x="1292.26" y="774.43" width="9.6" height="9.6"/><rect x="1301.41" y="770.54" width="9.6" height="9.6"/><rect x="1310.56" y="764.86" width="9.6" height="9.6"/><rect x="1319.71" y="758.87" width="9.6" height="9.6"/><rect x="1328.86" y="751.39" width="9.6" height="9.6"/><rect x="1338.01" y="743.31" width="9.6" height="9.6"/><rect x="1347.16" y="735.22" width="9.6" height="9.6"/><rect x="1356.32" y="726.25" width="9.6" height="9.6"/><rect x="1365.47" y="716.67" width="9.6" height="9.6"/><rect x="1374.62" y="707.09" width="9.6" height="9.6"/><rect x="1383.77" y="697.51" width="9.6" height="9.6"/><rect x="1392.92" y="687.04" width="9.6" height="9.6"/><rect x="1402.07" y="677.16" width="9.6" height="9.6"/><rect x="1411.22" y="666.39" width="9.6" height="9.6"/><rect x="1420.37" y="655.91" width="9.6" height="9.6"/><rect x="1429.52" y="645.73" width="9.6" height="9.6"/><rect x="1438.68" y="635.26" width="9.6" height="9.6"/><rect x="1447.83" y="625.08" width="9.6" height="9.6"/><rect x="1456.98" y="615.21" width="9.6" height="9.6"/><rect x="1466.13" y="605.93" width="9.6" height="9.6"/><rect x="1475.28" y="596.95" width="9.6" height="9.6"/><rect x="1484.43" y="587.67" width="9.6" height="9.6"/><rect x="1493.58" y="579.29" width="9.6" height="9.6"/><rect x="1502.73" y="571.21" width="9.6" height="9.6"/><rect x="1511.88" y="564.03" width="9.6" height="9.6"/><rect x="1521.04" y="557.44" width="9.6" height="9.6"/><rect x="1530.19" y="550.86" width="9.6" height="9.6"/><rect x="1539.34" y="544.87" width="9.6" height="9.6"/><rect x="1548.49" y="539.18" width="9.6" height="9.6"/><rect x="1557.64" y="533.80" width="9.6" height="9.6"/><rect x="1566.79" y="529.01" width="9.6" height="9.6"/><rect x="1575.94" y="525.12" width="9.6" height="9.6"/><rect x="1585.09" y="521.52" width="9.6" height="9.6"/><rect x="1594.24" y="517.93" width="9.6" height="9.6"/><rect x="1603.40" y="514.94" width="9.6" height="9.6"/><rect x="1612.55" y="512.84" width="9.6" height="9.6"/><rect x="1621.70" y="510.15" width="9.6" height="9.6"/><rect x="1630.85" y="508.95" width="9.6" height="9.6"/><rect x="1640.00" y="507.16" width="9.6" height="9.6"/></g>
<path d="M1278.76,793.30V783.80M1278.76,494.00V503.50M1324.51,793.30V783.80M1324.51,494.00V503.50M1370.27,793.30V783.80M1370.27,494.00V503.50M1416.02,793.30V783.80M1416.02,494.00V503.50M1461.78,793.30V783.80M1461.78,494.00V503.50M1507.53,793.30V783.80M1507.53,494.00V503.50M1553.29,793.30V783.80M1553.29,494.00V503.50M1599.04,793.30V783.80M1599.04,494.00V503.50M1233.00,733.44H1242.50M1644.80,733.44H1635.30M1233.00,673.58H1242.50M1644.80,673.58H1635.30M1233.00,613.72H1242.50M1644.80,613.72H1635.30M1233.00,553.86H1242.50M1644.80,553.86H1635.30" stroke="#000" stroke-width="2.4" fill="none"/><rect x="1233.0" y="494.0" width="411.80" height="299.30" stroke="#000" stroke-width="2.4" fill="none"/>
<path d="M1233.00,502.98 L1234.03,502.98 L1235.06,503.00 L1236.10,503.02 L1237.13,503.05 L1238.16,503.09 L1239.19,503.14 L1240.22,503.20 L1241.26,503.27 L1242.29,503.34 L1243.32,503.43 L1244.35,503.52 L1245.38,503.63 L1246.42,503.74 L1247.45,503.86 L1248.48,503.99 L1249.51,504.13 L1250.55,504.28 L1251.58,504.43 L1252.61,504.60 L1253.64,504.78 L1254.67,504.96 L1255.71,505.15 L1256.74,505.35 L1257.77,505.56 L1258.80,505.78 L1259.83,506.01 L1260.87,506.25 L1261.90,506.49 L1262.93,506.75 L1263.96,507.01 L1264.99,507.28 L1266.03,507.56 L1267.06,507.85 L1268.09,508.15 L1269.12,508.46 L1270.15,508.77 L1271.19,509.10 L1272.22,509.43 L1273.25,509.77 L1274.28,510.12 L1275.32,510.48 L1276.35,510.84 L1277.38,511.22 L1278.41,511.60 L1279.44,512.00 L1280.48,512.40 L1281.51,512.81 L1282.54,513.22 L1283.57,513.65 L1284.60,514.08 L1285.64,514.53 L1286.67,514.98 L1287.70,515.44 L1288.73,515.90 L1289.76,516.38 L1290.80,516.86 L1291.83,517.35 L1292.86,517.85 L1293.89,518.36 L1294.92,518.88 L1295.96,519.40 L1296.99,519.93 L1298.02,520.47 L1299.05,521.02 L1300.09,521.58 L1301.12,522.14 L1302.15,522.71 L1303.18,523.29 L1304.21,523.88 L1305.25,524.47 L1306.28,525.08 L1307.31,525.69 L1308.34,526.30 L1309.37,526.93 L1310.41,527.56 L1311.44,528.20 L1312.47,528.85 L1313.50,529.50 L1314.53,530.17 L1315.57,530.84 L1316.60,531.51 L1317.63,532.20 L1318.66,532.89 L1319.69,533.59 L1320.73,534.29 L1321.76,535.01 L1322.79,535.73 L1323.82,536.45 L1324.86,537.19 L1325.89,537.93 L1326.92,538.67 L1327.95,539.43 L1328.98,540.19 L1330.02,540.96 L1331.05,541.73 L1332.08,542.51 L1333.11,543.30 L1334.14,544.09 L1335.18,544.89 L1336.21,545.70 L1337.24,546.51 L1338.27,547.33 L1339.30,548.16 L1340.34,548.99 L1341.37,549.82 L1342.40,550.67 L1343.43,551.52 L1344.46,552.37 L1345.50,553.24 L1346.53,554.10 L1347.56,554.98 L1348.59,555.86 L1349.63,556.74 L1350.66,557.63 L1351.69,558.53 L1352.72,559.43 L1353.75,560.34 L1354.79,561.25 L1355.82,562.17 L1356.85,563.09 L1357.88,564.02 L1358.91,564.96 L1359.95,565.90 L1360.98,566.84 L1362.01,567.79 L1363.04,568.74 L1364.07,569.70 L1365.11,570.67 L1366.14,571.64 L1367.17,572.61 L1368.20,573.59 L1369.23,574.57 L1370.27,575.56 L1371.30,576.55 L1372.33,577.55 L1373.36,578.55 L1374.39,579.55 L1375.43,580.56 L1376.46,581.58 L1377.49,582.59 L1378.52,583.62 L1379.56,584.64 L1380.59,585.67 L1381.62,586.71 L1382.65,587.74 L1383.68,588.78 L1384.72,589.83 L1385.75,590.88 L1386.78,591.93 L1387.81,592.99 L1388.84,594.04 L1389.88,595.11 L1390.91,596.17 L1391.94,597.24 L1392.97,598.31 L1394.00,599.39 L1395.04,600.47 L1396.07,601.55 L1397.10,602.63 L1398.13,603.72 L1399.16,604.81 L1400.20,605.90 L1401.23,606.99 L1402.26,608.09 L1403.29,609.19 L1404.33,610.29 L1405.36,611.40 L1406.39,612.50 L1407.42,613.61 L1408.45,614.72 L1409.49,615.84 L1410.52,616.95 L1411.55,618.07 L1412.58,619.19 L1413.61,620.31 L1414.65,621.43 L1415.68,622.56 L1416.71,623.68 L1417.74,624.81 L1418.77,625.94 L1419.81,627.07 L1420.84,628.20 L1421.87,629.33 L1422.90,630.47 L1423.93,631.60 L1424.97,632.74 L1426.00,633.88 L1427.03,635.01 L1428.06,636.15 L1429.10,637.29 L1430.13,638.43 L1431.16,639.57 L1432.19,640.71 L1433.22,641.86 L1434.26,643.00 L1435.29,644.14 L1436.32,645.28 L1437.35,646.43 L1438.38,647.57 L1439.42,648.71 L1440.45,649.85 L1441.48,651.00 L1442.51,652.14 L1443.54,653.28 L1444.58,654.42 L1445.61,655.57 L1446.64,656.71 L1447.67,657.85 L1448.70,658.99 L1449.74,660.13 L1450.77,661.27 L1451.80,662.40 L1452.83,663.54 L1453.87,664.68 L1454.90,665.81 L1455.93,666.95 L1456.96,668.08 L1457.99,669.21 L1459.03,670.34 L1460.06,671.47 L1461.09,672.60 L1462.12,673.72 L1463.15,674.85 L1464.19,675.97 L1465.22,677.09 L1466.25,678.21 L1467.28,679.33 L1468.31,680.44 L1469.35,681.55 L1470.38,682.67 L1471.41,683.77 L1472.44,684.88 L1473.47,685.99 L1474.51,687.09 L1475.54,688.19 L1476.57,689.29 L1477.60,690.38 L1478.64,691.47 L1479.67,692.56 L1480.70,693.65 L1481.73,694.73 L1482.76,695.81 L1483.80,696.89 L1484.83,697.97 L1485.86,699.04 L1486.89,700.11 L1487.92,701.17 L1488.96,702.23 L1489.99,703.29 L1491.02,704.35 L1492.05,705.40 L1493.08,706.45 L1494.12,707.49 L1495.15,708.54 L1496.18,709.57 L1497.21,710.61 L1498.24,711.64 L1499.28,712.66 L1500.31,713.68 L1501.34,714.70 L1502.37,715.72 L1503.41,716.73 L1504.44,717.73 L1505.47,718.73 L1506.50,719.73 L1507.53,720.72 L1508.57,721.71 L1509.60,722.69 L1510.63,723.67 L1511.66,724.64 L1512.69,725.61 L1513.73,726.58 L1514.76,727.53 L1515.79,728.49 L1516.82,729.44 L1517.85,730.38 L1518.89,731.32 L1519.92,732.26 L1520.95,733.19 L1521.98,734.11 L1523.01,735.03 L1524.05,735.94 L1525.08,736.85 L1526.11,737.75 L1527.14,738.65 L1528.17,739.54 L1529.21,740.42 L1530.24,741.30 L1531.27,742.17 L1532.30,743.04 L1533.34,743.90 L1534.37,744.76 L1535.40,745.61 L1536.43,746.45 L1537.46,747.29 L1538.50,748.12 L1539.53,748.95 L1540.56,749.77 L1541.59,750.58 L1542.62,751.39 L1543.66,752.19 L1544.69,752.98 L1545.72,753.77 L1546.75,754.55 L1547.78,755.32 L1548.82,756.09 L1549.85,756.85 L1550.88,757.61 L1551.91,758.35 L1552.94,759.09 L1553.98,759.83 L1555.01,760.55 L1556.04,761.27 L1557.07,761.99 L1558.11,762.69 L1559.14,763.39 L1560.17,764.08 L1561.20,764.77 L1562.23,765.44 L1563.27,766.11 L1564.30,766.77 L1565.33,767.43 L1566.36,768.08 L1567.39,768.72 L1568.43,769.35 L1569.46,769.97 L1570.49,770.59 L1571.52,771.20 L1572.55,771.80 L1573.59,772.40 L1574.62,772.99 L1575.65,773.57 L1576.68,774.14 L1577.71,774.70 L1578.75,775.26 L1579.78,775.80 L1580.81,776.34 L1581.84,776.88 L1582.88,777.40 L1583.91,777.92 L1584.94,778.42 L1585.97,778.92 L1587.00,779.42 L1588.04,779.90 L1589.07,780.38 L1590.10,780.84 L1591.13,781.30 L1592.16,781.75 L1593.20,782.20 L1594.23,782.63 L1595.26,783.06 L1596.29,783.47 L1597.32,783.88 L1598.36,784.28 L1599.39,784.68 L1600.42,785.06 L1601.45,785.43 L1602.48,785.80 L1603.52,786.16 L1604.55,786.51 L1605.58,786.85 L1606.61,787.18 L1607.65,787.51 L1608.68,787.82 L1609.71,788.13 L1610.74,788.43 L1611.77,788.72 L1612.81,789.00 L1613.84,789.27 L1614.87,789.53 L1615.90,789.79 L1616.93,790.03 L1617.97,790.27 L1619.00,790.50 L1620.03,790.72 L1621.06,790.93 L1622.09,791.13 L1623.13,791.32 L1624.16,791.50 L1625.19,791.68 L1626.22,791.84 L1627.25,792.00 L1628.29,792.15 L1629.32,792.29 L1630.35,792.42 L1631.38,792.54 L1632.42,792.65 L1633.45,792.76 L1634.48,792.85 L1635.51,792.94 L1636.54,793.01 L1637.58,793.08 L1638.61,793.14 L1639.64,793.19 L1640.67,793.23 L1641.70,793.26 L1642.74,793.28 L1643.77,793.30 L1644.80,793.30" stroke="#969696" stroke-width="3.2" stroke-dasharray="5.5 5" fill="none"/>
<path d="M1233.00,793.30 L1234.03,793.30 L1235.06,793.28 L1236.10,793.26 L1237.13,793.23 L1238.16,793.19 L1239.19,793.14 L1240.22,793.09 L1241.26,793.02 L1242.29,792.94 L1243.32,792.86 L1244.35,792.77 L1245.38,792.67 L1246.42,792.56 L1247.45,792.44 L1248.48,792.31 L1249.51,792.18 L1250.55,792.03 L1251.58,791.88 L1252.61,791.72 L1253.64,791.55 L1254.67,791.37 L1255.71,791.18 L1256.74,790.98 L1257.77,790.78 L1258.80,790.57 L1259.83,790.34 L1260.87,790.11 L1261.90,789.87 L1262.93,789.63 L1263.96,789.37 L1264.99,789.10 L1266.03,788.83 L1267.06,788.55 L1268.09,788.26 L1269.12,787.96 L1270.15,787.65 L1271.19,787.33 L1272.22,787.01 L1273.25,786.68 L1274.28,786.34 L1275.32,785.99 L1276.35,785.63 L1277.38,785.26 L1278.41,784.89 L1279.44,784.51 L1280.48,784.12 L1281.51,783.72 L1282.54,783.31 L1283.57,782.89 L1284.60,782.47 L1285.64,782.04 L1286.67,781.60 L1287.70,781.15 L1288.73,780.70 L1289.76,780.23 L1290.80,779.76 L1291.83,779.28 L1292.86,778.79 L1293.89,778.30 L1294.92,777.79 L1295.96,777.28 L1296.99,776.76 L1298.02,776.24 L1299.05,775.70 L1300.09,775.16 L1301.12,774.61 L1302.15,774.05 L1303.18,773.49 L1304.21,772.92 L1305.25,772.34 L1306.28,771.75 L1307.31,771.15 L1308.34,770.55 L1309.37,769.94 L1310.41,769.33 L1311.44,768.70 L1312.47,768.07 L1313.50,767.43 L1314.53,766.78 L1315.57,766.13 L1316.60,765.47 L1317.63,764.80 L1318.66,764.13 L1319.69,763.45 L1320.73,762.76 L1321.76,762.07 L1322.79,761.36 L1323.82,760.66 L1324.86,759.94 L1325.89,759.22 L1326.92,758.49 L1327.95,757.75 L1328.98,757.01 L1330.02,756.26 L1331.05,755.51 L1332.08,754.75 L1333.11,753.98 L1334.14,753.21 L1335.18,752.42 L1336.21,751.64 L1337.24,750.85 L1338.27,750.05 L1339.30,749.24 L1340.34,748.43 L1341.37,747.61 L1342.40,746.79 L1343.43,745.96 L1344.46,745.13 L1345.50,744.29 L1346.53,743.44 L1347.56,742.59 L1348.59,741.73 L1349.63,740.87 L1350.66,740.00 L1351.69,739.12 L1352.72,738.24 L1353.75,737.36 L1354.79,736.47 L1355.82,735.57 L1356.85,734.67 L1357.88,733.77 L1358.91,732.86 L1359.95,731.94 L1360.98,731.02 L1362.01,730.09 L1363.04,729.16 L1364.07,728.23 L1365.11,727.29 L1366.14,726.34 L1367.17,725.39 L1368.20,724.44 L1369.23,723.48 L1370.27,722.52 L1371.30,721.55 L1372.33,720.58 L1373.36,719.60 L1374.39,718.62 L1375.43,717.64 L1376.46,716.65 L1377.49,715.65 L1378.52,714.66 L1379.56,713.66 L1380.59,712.65 L1381.62,711.64 L1382.65,710.63 L1383.68,709.62 L1384.72,708.60 L1385.75,707.58 L1386.78,706.55 L1387.81,705.52 L1388.84,704.49 L1389.88,703.45 L1390.91,702.41 L1391.94,701.37 L1392.97,700.33 L1394.00,699.28 L1395.04,698.23 L1396.07,697.17 L1397.10,696.11 L1398.13,695.05 L1399.16,693.99 L1400.20,692.93 L1401.23,691.86 L1402.26,690.79 L1403.29,689.72 L1404.33,688.64 L1405.36,687.56 L1406.39,686.48 L1407.42,685.40 L1408.45,684.32 L1409.49,683.23 L1410.52,682.15 L1411.55,681.06 L1412.58,679.96 L1413.61,678.87 L1414.65,677.78 L1415.68,676.68 L1416.71,675.58 L1417.74,674.48 L1418.77,673.38 L1419.81,672.28 L1420.84,671.18 L1421.87,670.07 L1422.90,668.97 L1423.93,667.86 L1424.97,666.75 L1426.00,665.64 L1427.03,664.53 L1428.06,663.42 L1429.10,662.31 L1430.13,661.20 L1431.16,660.09 L1432.19,658.97 L1433.22,657.86 L1434.26,656.75 L1435.29,655.63 L1436.32,654.52 L1437.35,653.40 L1438.38,652.29 L1439.42,651.17 L1440.45,650.06 L1441.48,648.94 L1442.51,647.83 L1443.54,646.72 L1444.58,645.60 L1445.61,644.49 L1446.64,643.38 L1447.67,642.26 L1448.70,641.15 L1449.74,640.04 L1450.77,638.93 L1451.80,637.82 L1452.83,636.71 L1453.87,635.60 L1454.90,634.50 L1455.93,633.39 L1456.96,632.29 L1457.99,631.18 L1459.03,630.08 L1460.06,628.98 L1461.09,627.88 L1462.12,626.78 L1463.15,625.69 L1464.19,624.59 L1465.22,623.50 L1466.25,622.41 L1467.28,621.32 L1468.31,620.23 L1469.35,619.14 L1470.38,618.06 L1471.41,616.98 L1472.44,615.90 L1473.47,614.82 L1474.51,613.75 L1475.54,612.67 L1476.57,611.60 L1477.60,610.54 L1478.64,609.47 L1479.67,608.41 L1480.70,607.35 L1481.73,606.29 L1482.76,605.24 L1483.80,604.19 L1484.83,603.14 L1485.86,602.09 L1486.89,601.05 L1487.92,600.01 L1488.96,598.97 L1489.99,597.94 L1491.02,596.91 L1492.05,595.89 L1493.08,594.86 L1494.12,593.84 L1495.15,592.83 L1496.18,591.82 L1497.21,590.81 L1498.24,589.80 L1499.28,588.80 L1500.31,587.81 L1501.34,586.82 L1502.37,585.83 L1503.41,584.84 L1504.44,583.86 L1505.47,582.89 L1506.50,581.91 L1507.53,580.95 L1508.57,579.98 L1509.60,579.02 L1510.63,578.07 L1511.66,577.12 L1512.69,576.18 L1513.73,575.24 L1514.76,574.30 L1515.79,573.37 L1516.82,572.44 L1517.85,571.52 L1518.89,570.61 L1519.92,569.70 L1520.95,568.79 L1521.98,567.89 L1523.01,566.99 L1524.05,566.10 L1525.08,565.22 L1526.11,564.34 L1527.14,563.46 L1528.17,562.60 L1529.21,561.73 L1530.24,560.87 L1531.27,560.02 L1532.30,559.18 L1533.34,558.34 L1534.37,557.50 L1535.40,556.67 L1536.43,555.85 L1537.46,555.03 L1538.50,554.22 L1539.53,553.42 L1540.56,552.62 L1541.59,551.82 L1542.62,551.04 L1543.66,550.26 L1544.69,549.48 L1545.72,548.72 L1546.75,547.95 L1547.78,547.20 L1548.82,546.45 L1549.85,545.71 L1550.88,544.97 L1551.91,544.24 L1552.94,543.52 L1553.98,542.81 L1555.01,542.10 L1556.04,541.40 L1557.07,540.70 L1558.11,540.01 L1559.14,539.33 L1560.17,538.66 L1561.20,537.99 L1562.23,537.33 L1563.27,536.68 L1564.30,536.03 L1565.33,535.39 L1566.36,534.76 L1567.39,534.14 L1568.43,533.52 L1569.46,532.91 L1570.49,532.31 L1571.52,531.71 L1572.55,531.13 L1573.59,530.55 L1574.62,529.97 L1575.65,529.41 L1576.68,528.85 L1577.71,528.30 L1578.75,527.76 L1579.78,527.22 L1580.81,526.70 L1581.84,526.18 L1582.88,525.67 L1583.91,525.16 L1584.94,524.67 L1585.97,524.18 L1587.00,523.70 L1588.04,523.23 L1589.07,522.77 L1590.10,522.31 L1591.13,521.86 L1592.16,521.42 L1593.20,520.99 L1594.23,520.57 L1595.26,520.15 L1596.29,519.75 L1597.32,519.35 L1598.36,518.96 L1599.39,518.57 L1600.42,518.20 L1601.45,517.83 L1602.48,517.48 L1603.52,517.13 L1604.55,516.78 L1605.58,516.45 L1606.61,516.13 L1607.65,515.81 L1608.68,515.50 L1609.71,515.20 L1610.74,514.91 L1611.77,514.63 L1612.81,514.36 L1613.84,514.09 L1614.87,513.84 L1615.90,513.59 L1616.93,513.35 L1617.97,513.12 L1619.00,512.90 L1620.03,512.68 L1621.06,512.48 L1622.09,512.28 L1623.13,512.09 L1624.16,511.91 L1625.19,511.74 L1626.22,511.58 L1627.25,511.43 L1628.29,511.28 L1629.32,511.15 L1630.35,511.02 L1631.38,510.90 L1632.42,510.79 L1633.45,510.69 L1634.48,510.60 L1635.51,510.52 L1636.54,510.44 L1637.58,510.38 L1638.61,510.32 L1639.64,510.27 L1640.67,510.23 L1641.70,510.20 L1642.74,510.18 L1643.77,510.17 L1644.80,510.16" stroke="#969696" stroke-width="3.6" fill="none"/>
<text transform="translate(1.91,36.66) scale(1.0444,1.0421)" font-family="'Liberation Sans', Arial, sans-serif" font-size="40" font-weight="bold">(a)</text>
<text transform="translate(561.86,36.32) scale(1.0681,1.0474)" font-family="'Liberation Sans', Arial, sans-serif" font-size="40" font-weight="bold">(b)</text>
<text transform="translate(1114.41,36.21) scale(1.0467,1.0368)" font-family="'Liberation Sans', Arial, sans-serif" font-size="40" font-weight="bold">(c)</text>
<text transform="translate(0.80,477.51) scale(1.1000,1.0368)" font-family="'Liberation Sans', Arial, sans-serif" font-size="40" font-weight="bold">(d)</text>
<text transform="translate(561.02,477.51) scale(1.0911,1.0368)" font-family="'Liberation Sans', Arial, sans-serif" font-size="40" font-weight="bold">(e)</text>
<text transform="translate(1113.64,477.51) scale(1.0806,1.0368)" font-family="'Liberation Sans', Arial, sans-serif" font-size="40" font-weight="bold">(f)</text>
<text transform="translate(281.76,32.60) scale(1.0188,0.9926)" font-family="'Liberation Serif', 'Times New Roman', serif" font-size="38" stroke="#000" stroke-width="0.3" font-style="italic">&#952;</text>
<text transform="translate(310.51,34.64) scale(1.3944,0.9300)" font-family="'Liberation Serif', 'Times New Roman', serif" font-size="38" stroke="#000" stroke-width="0.3">=</text>
<text transform="translate(350.23,33.00) scale(0.9688,1.0154)" font-family="'Liberation Serif', 'Times New Roman', serif" font-size="38" stroke="#000" stroke-width="0.3">0&#176;</text>
<text transform="translate(817.86,32.10) scale(1.0187,1.0037)" font-family="'Liberation Serif', 'Times New Roman', serif" font-size="38" stroke="#000" stroke-width="0.3" font-style="italic">&#952;</text>
<text transform="translate(846.61,33.84) scale(1.3944,0.9300)" font-family="'Liberation Serif', 'Times New Roman', serif" font-size="38" stroke="#000" stroke-width="0.3">=</text>
<text transform="translate(886.79,32.50) scale(0.9694,1.0269)" font-family="'Liberation Serif', 'Times New Roman', serif" font-size="38" stroke="#000" stroke-width="0.3">15&#176;</text>
<text transform="translate(1372.76,31.40) scale(1.0187,1.0111)" font-family="'Liberation Serif', 'Times New Roman', serif" font-size="38" stroke="#000" stroke-width="0.3" font-style="italic">&#952;</text>
<text transform="translate(1401.51,32.94) scale(1.3944,0.9300)" font-family="'Liberation Serif', 'Times New Roman', serif" font-size="38" stroke="#000" stroke-width="0.3">=</text>
<text transform="translate(1443.67,31.80) scale(0.9314,1.0346)" font-family="'Liberation Serif', 'Times New Roman', serif" font-size="38" stroke="#000" stroke-width="0.3">22&#176;</text>
<text transform="translate(271.46,486.70) scale(1.0188,0.9926)" font-family="'Liberation Serif', 'Times New Roman', serif" font-size="38" stroke="#000" stroke-width="0.3" font-style="italic">&#952;</text>
<text transform="translate(300.21,488.74) scale(1.3944,0.9300)" font-family="'Liberation Serif', 'Times New Roman', serif" font-size="38" stroke="#000" stroke-width="0.3">=</text>
<text transform="translate(342.37,487.10) scale(0.9314,1.0154)" font-family="'Liberation Serif', 'Times New Roman', serif" font-size="38" stroke="#000" stroke-width="0.3">29&#176;</text>
<text transform="translate(827.86,485.40) scale(1.0187,0.9963)" font-family="'Liberation Serif', 'Times New Roman', serif" font-size="38" stroke="#000" stroke-width="0.3" font-style="italic">&#952;</text>
<text transform="translate(856.61,487.34) scale(1.3944,0.9300)" font-family="'Liberation Serif', 'Times New Roman', serif" font-size="38" stroke="#000" stroke-width="0.3">=</text>
<text transform="translate(899.70,485.80) scale(0.9135,1.0192)" font-family="'Liberation Serif', 'Times New Roman', serif" font-size="38" stroke="#000" stroke-width="0.3">45&#176;</text>
<text transform="translate(175.79,134.23) scale(0.9714,0.9707)" font-family="'Liberation Serif', 'Times New Roman', serif" font-size="38">|<tspan font-style="italic" stroke="#000" stroke-width="0.4">t</tspan>|<tspan font-size="27" dy="-14.6">2</tspan></text>
<text transform="translate(175.68,285.95) scale(0.9744,0.9439)" font-family="'Liberation Serif', 'Times New Roman', serif" font-size="38">|<tspan font-style="italic" stroke="#000" stroke-width="0.4">r</tspan>|<tspan font-size="27" dy="-14.6">2</tspan></text>
<text transform="translate(725.69,157.95) scale(0.9714,0.9317)" font-family="'Liberation Serif', 'Times New Roman', serif" font-size="38">|<tspan font-style="italic" stroke="#000" stroke-width="0.4">t</tspan>|<tspan font-size="27" dy="-14.6">2</tspan></text>
<text transform="translate(723.89,265.57) scale(1.0026,0.9537)" font-family="'Liberation Serif', 'Times New Roman', serif" font-size="38">|<tspan font-style="italic" stroke="#000" stroke-width="0.4">r</tspan>|<tspan font-size="27" dy="-14.6">2</tspan></text>
<text transform="translate(1283.19,126.67) scale(0.9714,0.9537)" font-family="'Liberation Serif', 'Times New Roman', serif" font-size="38">|<tspan font-style="italic" stroke="#000" stroke-width="0.4">t</tspan>|<tspan font-size="27" dy="-14.6">2</tspan></text>
<text transform="translate(1281.13,288.00) scale(0.9897,0.9122)" font-family="'Liberation Serif', 'Times New Roman', serif" font-size="38">|<tspan font-style="italic" stroke="#000" stroke-width="0.4">r</tspan>|<tspan font-size="27" dy="-14.6">2</tspan></text>
<text transform="translate(174.09,561.17) scale(0.9714,0.9537)" font-family="'Liberation Serif', 'Times New Roman', serif" font-size="38">|<tspan font-style="italic" stroke="#000" stroke-width="0.4">t</tspan>|<tspan font-size="27" dy="-14.6">2</tspan></text>
<text transform="translate(174.86,751.01) scale(1.0128,0.9610)" font-family="'Liberation Serif', 'Times New Roman', serif" font-size="38">|<tspan font-style="italic" stroke="#000" stroke-width="0.4">r</tspan>|<tspan font-size="27" dy="-14.6">2</tspan></text>
<text transform="translate(728.40,544.69) scale(1.0000,0.9634)" font-family="'Liberation Serif', 'Times New Roman', serif" font-size="38">|<tspan font-style="italic" stroke="#000" stroke-width="0.4">t</tspan>|<tspan font-size="27" dy="-14.6">2</tspan></text>
<text transform="translate(728.33,769.89) scale(0.9897,0.9634)" font-family="'Liberation Serif', 'Times New Roman', serif" font-size="38">|<tspan font-style="italic" stroke="#000" stroke-width="0.4">r</tspan>|<tspan font-size="27" dy="-14.6">2</tspan></text>
<text transform="translate(1258.35,619.39) scale(0.9841,0.9512)" font-family="'Liberation Serif', 'Times New Roman', serif" font-size="38">|<tspan font-style="italic" stroke="#000" stroke-width="0.4">r</tspan><tspan dx="4">(</tspan>&#969;<tspan font-size="27" dy="8">0</tspan><tspan dy="-8">)|</tspan><tspan font-size="27" dy="-14.6">2</tspan></text>
<text transform="translate(1260.16,715.95) scale(0.9796,0.9439)" font-family="'Liberation Serif', 'Times New Roman', serif" font-size="38">|<tspan font-style="italic" stroke="#000" stroke-width="0.4">t</tspan><tspan dx="4">(</tspan>&#969;<tspan font-size="27" dy="8">0</tspan><tspan dy="-8">)|</tspan><tspan font-size="27" dy="-14.6">2</tspan></text>
<text transform="translate(33.63,244.49) rotate(-90) scale(0.9649,0.9463)" font-family="'Liberation Serif', 'Times New Roman', serif" font-size="38">|<tspan font-style="italic" stroke="#000" stroke-width="0.4">r</tspan>|<tspan font-size="27" dy="-14.6">2</tspan><tspan dy="14.6">, |</tspan><tspan font-style="italic" stroke="#000" stroke-width="0.4">t</tspan>|<tspan font-size="27" dy="-14.6">2</tspan></text>
<text transform="translate(583.23,245.29) rotate(-90) scale(0.9649,0.9463)" font-family="'Liberation Serif', 'Times New Roman', serif" font-size="38">|<tspan font-style="italic" stroke="#000" stroke-width="0.4">r</tspan>|<tspan font-size="27" dy="-14.6">2</tspan><tspan dy="14.6">, |</tspan><tspan font-style="italic" stroke="#000" stroke-width="0.4">t</tspan>|<tspan font-size="27" dy="-14.6">2</tspan></text>
<text transform="translate(1140.23,244.04) rotate(-90) scale(0.9649,0.9463)" font-family="'Liberation Serif', 'Times New Roman', serif" font-size="38">|<tspan font-style="italic" stroke="#000" stroke-width="0.4">r</tspan>|<tspan font-size="27" dy="-14.6">2</tspan><tspan dy="14.6">, |</tspan><tspan font-style="italic" stroke="#000" stroke-width="0.4">t</tspan>|<tspan font-size="27" dy="-14.6">2</tspan></text>
<text transform="translate(31.83,693.19) rotate(-90) scale(0.9649,0.9463)" font-family="'Liberation Serif', 'Times New Roman', serif" font-size="38">|<tspan font-style="italic" stroke="#000" stroke-width="0.4">r</tspan>|<tspan font-size="27" dy="-14.6">2</tspan><tspan dy="14.6">, |</tspan><tspan font-style="italic" stroke="#000" stroke-width="0.4">t</tspan>|<tspan font-size="27" dy="-14.6">2</tspan></text>
<text transform="translate(586.13,695.29) rotate(-90) scale(0.9649,0.9463)" font-family="'Liberation Serif', 'Times New Roman', serif" font-size="38">|<tspan font-style="italic" stroke="#000" stroke-width="0.4">r</tspan>|<tspan font-size="27" dy="-14.6">2</tspan><tspan dy="14.6">, |</tspan><tspan font-style="italic" stroke="#000" stroke-width="0.4">t</tspan>|<tspan font-size="27" dy="-14.6">2</tspan></text>
<text transform="translate(1142.33,763.34) rotate(-90) scale(0.9811,0.9707)" font-family="'Liberation Serif', 'Times New Roman', serif" font-size="38">|<tspan font-style="italic" stroke="#000" stroke-width="0.4">r</tspan><tspan dx="4">(</tspan>&#969;<tspan font-size="27" dy="8">0</tspan><tspan dy="-8">)|</tspan><tspan font-size="27" dy="-14.6">2</tspan><tspan dy="14.6">, </tspan>|<tspan font-style="italic" stroke="#000" stroke-width="0.4">t</tspan><tspan dx="4">(</tspan>&#969;<tspan font-size="27" dy="8">0</tspan><tspan dy="-8">)|</tspan><tspan font-size="27" dy="-14.6">2</tspan></text>
<text transform="translate(205.02,423.54) scale(0.9796,0.9697)" font-family="'Liberation Serif', 'Times New Roman', serif" font-size="38" stroke="#000" stroke-width="0.3">Frequency / GHz</text>
<text transform="translate(755.82,423.97) scale(0.9792,0.9788)" font-family="'Liberation Serif', 'Times New Roman', serif" font-size="38" stroke="#000" stroke-width="0.3">Frequency / GHz</text>
<text transform="translate(1312.32,422.47) scale(0.9808,0.9788)" font-family="'Liberation Serif', 'Times New Roman', serif" font-size="38" stroke="#000" stroke-width="0.3">Frequency / GHz</text>
<text transform="translate(203.52,871.57) scale(0.9758,0.9909)" font-family="'Liberation Serif', 'Times New Roman', serif" font-size="38" stroke="#000" stroke-width="0.3">Frequency / GHz</text>
<text transform="translate(757.72,873.04) scale(0.9812,0.9697)" font-family="'Liberation Serif', 'Times New Roman', serif" font-size="38" stroke="#000" stroke-width="0.3">Frequency / GHz</text>
<text transform="translate(1367.01,871.64) scale(0.9939,0.9571)" font-family="'Liberation Serif', 'Times New Roman', serif" font-size="38" stroke="#000" stroke-width="0.3">&#952; / degree</text>
<text transform="translate(90.01,357.57) scale(0.9550,1.0300)" font-family="'Liberation Serif', 'Times New Roman', serif" font-size="38" stroke="#000" stroke-width="0.3">0</text>
<text transform="translate(63.27,297.69) scale(0.9550,1.0300)" font-family="'Liberation Serif', 'Times New Roman', serif" font-size="38" stroke="#000" stroke-width="0.3">0.2</text>
<text transform="translate(62.32,237.81) scale(0.9550,1.0300)" font-family="'Liberation Serif', 'Times New Roman', serif" font-size="38" stroke="#000" stroke-width="0.3">0.4</text>
<text transform="translate(62.32,177.94) scale(0.9550,1.0300)" font-family="'Liberation Serif', 'Times New Roman', serif" font-size="38" stroke="#000" stroke-width="0.3">0.6</text>
<text transform="translate(63.27,118.06) scale(0.9550,1.0300)" font-family="'Liberation Serif', 'Times New Roman', serif" font-size="38" stroke="#000" stroke-width="0.3">0.8</text>
<text transform="translate(90.97,58.18) scale(0.9550,1.0300)" font-family="'Liberation Serif', 'Times New Roman', serif" font-size="38" stroke="#000" stroke-width="0.3">1</text>
<text transform="translate(639.71,357.93) scale(0.9550,1.0300)" font-family="'Liberation Serif', 'Times New Roman', serif" font-size="38" stroke="#000" stroke-width="0.3">0</text>
<text transform="translate(612.97,298.12) scale(0.9550,1.0300)" font-family="'Liberation Serif', 'Times New Roman', serif" font-size="38" stroke="#000" stroke-width="0.3">0.2</text>
<text transform="translate(612.01,238.32) scale(0.9550,1.0300)" font-family="'Liberation Serif', 'Times New Roman', serif" font-size="38" stroke="#000" stroke-width="0.3">0.4</text>
<text transform="translate(612.01,178.52) scale(0.9550,1.0300)" font-family="'Liberation Serif', 'Times New Roman', serif" font-size="38" stroke="#000" stroke-width="0.3">0.6</text>
<text transform="translate(612.97,118.72) scale(0.9550,1.0300)" font-family="'Liberation Serif', 'Times New Roman', serif" font-size="38" stroke="#000" stroke-width="0.3">0.8</text>
<text transform="translate(640.66,58.92) scale(0.9550,1.0300)" font-family="'Liberation Serif', 'Times New Roman', serif" font-size="38" stroke="#000" stroke-width="0.3">1</text>
<text transform="translate(1196.81,356.68) scale(0.9550,1.0300)" font-family="'Liberation Serif', 'Times New Roman', serif" font-size="38" stroke="#000" stroke-width="0.3">0</text>
<text transform="translate(1170.07,296.81) scale(0.9550,1.0300)" font-family="'Liberation Serif', 'Times New Roman', serif" font-size="38" stroke="#000" stroke-width="0.3">0.2</text>
<text transform="translate(1169.12,236.95) scale(0.9550,1.0300)" font-family="'Liberation Serif', 'Times New Roman', serif" font-size="38" stroke="#000" stroke-width="0.3">0.4</text>
<text transform="translate(1169.12,177.09) scale(0.9550,1.0300)" font-family="'Liberation Serif', 'Times New Roman', serif" font-size="38" stroke="#000" stroke-width="0.3">0.6</text>
<text transform="translate(1170.07,117.23) scale(0.9550,1.0300)" font-family="'Liberation Serif', 'Times New Roman', serif" font-size="38" stroke="#000" stroke-width="0.3">0.8</text>
<text transform="translate(1197.77,57.38) scale(0.9550,1.0300)" font-family="'Liberation Serif', 'Times New Roman', serif" font-size="38" stroke="#000" stroke-width="0.3">1</text>
<text transform="translate(87.61,805.67) scale(0.9550,1.0300)" font-family="'Liberation Serif', 'Times New Roman', serif" font-size="38" stroke="#000" stroke-width="0.3">0</text>
<text transform="translate(60.87,745.88) scale(0.9550,1.0300)" font-family="'Liberation Serif', 'Times New Roman', serif" font-size="38" stroke="#000" stroke-width="0.3">0.2</text>
<text transform="translate(59.92,686.07) scale(0.9550,1.0300)" font-family="'Liberation Serif', 'Times New Roman', serif" font-size="38" stroke="#000" stroke-width="0.3">0.4</text>
<text transform="translate(59.92,626.27) scale(0.9550,1.0300)" font-family="'Liberation Serif', 'Times New Roman', serif" font-size="38" stroke="#000" stroke-width="0.3">0.6</text>
<text transform="translate(60.87,566.47) scale(0.9550,1.0300)" font-family="'Liberation Serif', 'Times New Roman', serif" font-size="38" stroke="#000" stroke-width="0.3">0.8</text>
<text transform="translate(88.57,506.68) scale(0.9550,1.0300)" font-family="'Liberation Serif', 'Times New Roman', serif" font-size="38" stroke="#000" stroke-width="0.3">1</text>
<text transform="translate(642.31,808.28) scale(0.9550,1.0300)" font-family="'Liberation Serif', 'Times New Roman', serif" font-size="38" stroke="#000" stroke-width="0.3">0</text>
<text transform="translate(615.57,748.44) scale(0.9550,1.0300)" font-family="'Liberation Serif', 'Times New Roman', serif" font-size="38" stroke="#000" stroke-width="0.3">0.2</text>
<text transform="translate(614.62,688.60) scale(0.9550,1.0300)" font-family="'Liberation Serif', 'Times New Roman', serif" font-size="38" stroke="#000" stroke-width="0.3">0.4</text>
<text transform="translate(614.62,628.76) scale(0.9550,1.0300)" font-family="'Liberation Serif', 'Times New Roman', serif" font-size="38" stroke="#000" stroke-width="0.3">0.6</text>
<text transform="translate(615.57,568.92) scale(0.9550,1.0300)" font-family="'Liberation Serif', 'Times New Roman', serif" font-size="38" stroke="#000" stroke-width="0.3">0.8</text>
<text transform="translate(643.26,509.07) scale(0.9550,1.0300)" font-family="'Liberation Serif', 'Times New Roman', serif" font-size="38" stroke="#000" stroke-width="0.3">1</text>
<text transform="translate(1193.61,805.77) scale(0.9550,1.0300)" font-family="'Liberation Serif', 'Times New Roman', serif" font-size="38" stroke="#000" stroke-width="0.3">0</text>
<text transform="translate(1166.87,745.91) scale(0.9550,1.0300)" font-family="'Liberation Serif', 'Times New Roman', serif" font-size="38" stroke="#000" stroke-width="0.3">0.2</text>
<text transform="translate(1165.91,686.05) scale(0.9550,1.0300)" font-family="'Liberation Serif', 'Times New Roman', serif" font-size="38" stroke="#000" stroke-width="0.3">0.4</text>
<text transform="translate(1165.91,626.20) scale(0.9550,1.0300)" font-family="'Liberation Serif', 'Times New Roman', serif" font-size="38" stroke="#000" stroke-width="0.3">0.6</text>
<text transform="translate(1166.87,566.34) scale(0.9550,1.0300)" font-family="'Liberation Serif', 'Times New Roman', serif" font-size="38" stroke="#000" stroke-width="0.3">0.8</text>
<text transform="translate(1194.57,506.48) scale(0.9550,1.0300)" font-family="'Liberation Serif', 'Times New Roman', serif" font-size="38" stroke="#000" stroke-width="0.3">1</text>
<text transform="translate(116.13,385.90) scale(0.9550,1.0300)" font-family="'Liberation Serif', 'Times New Roman', serif" font-size="38" stroke="#000" stroke-width="0.3">3</text>
<text transform="translate(171.07,385.90) scale(0.9550,1.0300)" font-family="'Liberation Serif', 'Times New Roman', serif" font-size="38" stroke="#000" stroke-width="0.3">4</text>
<text transform="translate(225.54,385.90) scale(0.9550,1.0300)" font-family="'Liberation Serif', 'Times New Roman', serif" font-size="38" stroke="#000" stroke-width="0.3">5</text>
<text transform="translate(280.97,385.90) scale(0.9550,1.0300)" font-family="'Liberation Serif', 'Times New Roman', serif" font-size="38" stroke="#000" stroke-width="0.3">6</text>
<text transform="translate(335.44,385.90) scale(0.9550,1.0300)" font-family="'Liberation Serif', 'Times New Roman', serif" font-size="38" stroke="#000" stroke-width="0.3">7</text>
<text transform="translate(390.86,385.90) scale(0.9550,1.0300)" font-family="'Liberation Serif', 'Times New Roman', serif" font-size="38" stroke="#000" stroke-width="0.3">8</text>
<text transform="translate(445.81,385.90) scale(0.9550,1.0300)" font-family="'Liberation Serif', 'Times New Roman', serif" font-size="38" stroke="#000" stroke-width="0.3">9</text>
<text transform="translate(493.23,385.90) scale(0.9550,1.0300)" font-family="'Liberation Serif', 'Times New Roman', serif" font-size="38" stroke="#000" stroke-width="0.3">10</text>
<text transform="translate(665.73,386.40) scale(0.9550,1.0300)" font-family="'Liberation Serif', 'Times New Roman', serif" font-size="38" stroke="#000" stroke-width="0.3">3</text>
<text transform="translate(720.67,386.40) scale(0.9550,1.0300)" font-family="'Liberation Serif', 'Times New Roman', serif" font-size="38" stroke="#000" stroke-width="0.3">4</text>
<text transform="translate(775.14,386.40) scale(0.9550,1.0300)" font-family="'Liberation Serif', 'Times New Roman', serif" font-size="38" stroke="#000" stroke-width="0.3">5</text>
<text transform="translate(830.57,386.40) scale(0.9550,1.0300)" font-family="'Liberation Serif', 'Times New Roman', serif" font-size="38" stroke="#000" stroke-width="0.3">6</text>
<text transform="translate(885.04,386.40) scale(0.9550,1.0300)" font-family="'Liberation Serif', 'Times New Roman', serif" font-size="38" stroke="#000" stroke-width="0.3">7</text>
<text transform="translate(940.46,386.40) scale(0.9550,1.0300)" font-family="'Liberation Serif', 'Times New Roman', serif" font-size="38" stroke="#000" stroke-width="0.3">8</text>
<text transform="translate(995.41,386.40) scale(0.9550,1.0300)" font-family="'Liberation Serif', 'Times New Roman', serif" font-size="38" stroke="#000" stroke-width="0.3">9</text>
<text transform="translate(1042.83,386.40) scale(0.9550,1.0300)" font-family="'Liberation Serif', 'Times New Roman', serif" font-size="38" stroke="#000" stroke-width="0.3">10</text>
<text transform="translate(1222.73,384.00) scale(0.9550,1.0300)" font-family="'Liberation Serif', 'Times New Roman', serif" font-size="38" stroke="#000" stroke-width="0.3">3</text>
<text transform="translate(1277.70,384.00) scale(0.9550,1.0300)" font-family="'Liberation Serif', 'Times New Roman', serif" font-size="38" stroke="#000" stroke-width="0.3">4</text>
<text transform="translate(1332.20,384.00) scale(0.9550,1.0300)" font-family="'Liberation Serif', 'Times New Roman', serif" font-size="38" stroke="#000" stroke-width="0.3">5</text>
<text transform="translate(1387.65,384.00) scale(0.9550,1.0300)" font-family="'Liberation Serif', 'Times New Roman', serif" font-size="38" stroke="#000" stroke-width="0.3">6</text>
<text transform="translate(1442.14,384.00) scale(0.9550,1.0300)" font-family="'Liberation Serif', 'Times New Roman', serif" font-size="38" stroke="#000" stroke-width="0.3">7</text>
<text transform="translate(1497.59,384.00) scale(0.9550,1.0300)" font-family="'Liberation Serif', 'Times New Roman', serif" font-size="38" stroke="#000" stroke-width="0.3">8</text>
<text transform="translate(1552.57,384.00) scale(0.9550,1.0300)" font-family="'Liberation Serif', 'Times New Roman', serif" font-size="38" stroke="#000" stroke-width="0.3">9</text>
<text transform="translate(1600.01,384.00) scale(0.9550,1.0300)" font-family="'Liberation Serif', 'Times New Roman', serif" font-size="38" stroke="#000" stroke-width="0.3">10</text>
<text transform="translate(114.33,834.20) scale(0.9550,1.0300)" font-family="'Liberation Serif', 'Times New Roman', serif" font-size="38" stroke="#000" stroke-width="0.3">3</text>
<text transform="translate(169.26,834.20) scale(0.9550,1.0300)" font-family="'Liberation Serif', 'Times New Roman', serif" font-size="38" stroke="#000" stroke-width="0.3">4</text>
<text transform="translate(223.72,834.20) scale(0.9550,1.0300)" font-family="'Liberation Serif', 'Times New Roman', serif" font-size="38" stroke="#000" stroke-width="0.3">5</text>
<text transform="translate(279.13,834.20) scale(0.9550,1.0300)" font-family="'Liberation Serif', 'Times New Roman', serif" font-size="38" stroke="#000" stroke-width="0.3">6</text>
<text transform="translate(333.58,834.20) scale(0.9550,1.0300)" font-family="'Liberation Serif', 'Times New Roman', serif" font-size="38" stroke="#000" stroke-width="0.3">7</text>
<text transform="translate(388.99,834.20) scale(0.9550,1.0300)" font-family="'Liberation Serif', 'Times New Roman', serif" font-size="38" stroke="#000" stroke-width="0.3">8</text>
<text transform="translate(443.93,834.20) scale(0.9550,1.0300)" font-family="'Liberation Serif', 'Times New Roman', serif" font-size="38" stroke="#000" stroke-width="0.3">9</text>
<text transform="translate(491.33,834.20) scale(0.9550,1.0300)" font-family="'Liberation Serif', 'Times New Roman', serif" font-size="38" stroke="#000" stroke-width="0.3">10</text>
<text transform="translate(668.63,835.90) scale(0.9550,1.0300)" font-family="'Liberation Serif', 'Times New Roman', serif" font-size="38" stroke="#000" stroke-width="0.3">3</text>
<text transform="translate(723.60,835.90) scale(0.9550,1.0300)" font-family="'Liberation Serif', 'Times New Roman', serif" font-size="38" stroke="#000" stroke-width="0.3">4</text>
<text transform="translate(778.10,835.90) scale(0.9550,1.0300)" font-family="'Liberation Serif', 'Times New Roman', serif" font-size="38" stroke="#000" stroke-width="0.3">5</text>
<text transform="translate(833.55,835.90) scale(0.9550,1.0300)" font-family="'Liberation Serif', 'Times New Roman', serif" font-size="38" stroke="#000" stroke-width="0.3">6</text>
<text transform="translate(888.04,835.90) scale(0.9550,1.0300)" font-family="'Liberation Serif', 'Times New Roman', serif" font-size="38" stroke="#000" stroke-width="0.3">7</text>
<text transform="translate(943.49,835.90) scale(0.9550,1.0300)" font-family="'Liberation Serif', 'Times New Roman', serif" font-size="38" stroke="#000" stroke-width="0.3">8</text>
<text transform="translate(998.47,835.90) scale(0.9550,1.0300)" font-family="'Liberation Serif', 'Times New Roman', serif" font-size="38" stroke="#000" stroke-width="0.3">9</text>
<text transform="translate(1045.91,835.90) scale(0.9550,1.0300)" font-family="'Liberation Serif', 'Times New Roman', serif" font-size="38" stroke="#000" stroke-width="0.3">10</text>
<text transform="translate(1223.43,835.20) scale(0.9550,1.0300)" font-family="'Liberation Serif', 'Times New Roman', serif" font-size="38" stroke="#000" stroke-width="0.3">0</text>
<text transform="translate(1304.91,835.20) scale(0.9550,1.0300)" font-family="'Liberation Serif', 'Times New Roman', serif" font-size="38" stroke="#000" stroke-width="0.3">10</text>
<text transform="translate(1397.38,835.20) scale(0.9550,1.0300)" font-family="'Liberation Serif', 'Times New Roman', serif" font-size="38" stroke="#000" stroke-width="0.3">20</text>
<text transform="translate(1488.89,835.20) scale(0.9550,1.0300)" font-family="'Liberation Serif', 'Times New Roman', serif" font-size="38" stroke="#000" stroke-width="0.3">30</text>
<text transform="translate(1580.88,835.20) scale(0.9550,1.0300)" font-family="'Liberation Serif', 'Times New Roman', serif" font-size="38" stroke="#000" stroke-width="0.3">40</text>
</svg>
</body></html>
